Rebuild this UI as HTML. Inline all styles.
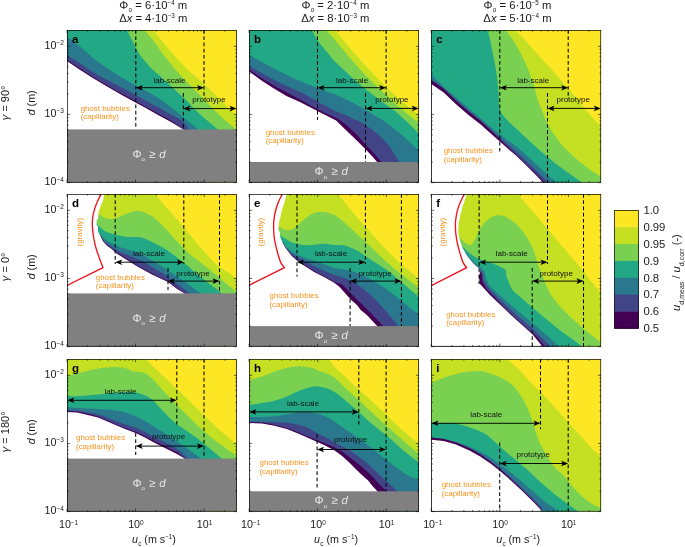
<!DOCTYPE html>
<html><head><meta charset="utf-8"><title>figure</title>
<style>
html,body{margin:0;padding:0;background:#fff;}
body{width:685px;height:547px;overflow:hidden;}
svg{display:block;will-change:transform;}
text{font-family:"Liberation Sans",sans-serif;fill:#1a1a1a;}
.lab{font-size:8.0px;text-anchor:middle;fill:#111;}
.gb{font-size:7.9px;fill:#F7931E;}
.grav{font-size:7.9px;fill:#F7931E;text-anchor:middle;}
.phi{font-size:11.4px;fill:#E8E8E8;text-anchor:middle;}
.pl{font-size:11.5px;font-weight:bold;fill:#000;}
.tick{font-size:10.7px;}
.ttl{font-size:11.25px;text-anchor:middle;}
.ax{font-size:10.7px;text-anchor:middle;}
.cb{font-size:11.3px;}
</style></head><body>
<svg width="685" height="547" viewBox="0 0 685 547">
<rect width="685" height="547" fill="#fff"/>
<g transform="translate(67.00,30.10)">
<clipPath id="cp_a"><rect x="0" y="0" width="169.90" height="152.50"/></clipPath>
<g clip-path="url(#cp_a)">
<rect x="0" y="0" width="169.90" height="152.50" fill="#FDE725"/>
<path d="M86.00,0.00 C87.92,2.33 93.50,9.25 97.50,14.00 C101.50,18.75 105.92,24.00 110.00,28.50 C114.08,33.00 118.17,37.42 122.00,41.00 C125.83,44.58 129.17,46.60 133.00,50.00 C136.83,53.40 141.50,58.07 145.00,61.40 C148.50,64.73 151.07,67.07 154.00,70.00 C156.93,72.93 159.95,76.42 162.60,79.00 C165.25,81.58 168.68,84.42 169.90,85.50 L169.90,152.50 L0.00,152.50 L0.00,0.00 Z" fill="#C5DF22"/>
<path d="M77.00,0.00 C78.33,1.50 81.58,4.67 85.00,9.00 C88.42,13.33 93.33,20.58 97.50,26.00 C101.67,31.42 106.58,37.50 110.00,41.50 C113.42,45.50 115.08,46.98 118.00,50.00 C120.92,53.02 124.50,56.53 127.50,59.60 C130.50,62.67 133.08,65.33 136.00,68.40 C138.92,71.47 142.00,75.00 145.00,78.00 C148.00,81.00 151.07,83.73 154.00,86.40 C156.93,89.07 159.95,91.65 162.60,94.00 C165.25,96.35 168.68,99.42 169.90,100.50 L169.90,152.50 L0.00,152.50 L0.00,0.00 Z" fill="#7AD151"/>
<path d="M60.00,0.00 C60.83,1.67 63.33,6.67 65.00,10.00 C66.67,13.33 68.33,17.08 70.00,20.00 C71.67,22.92 73.33,25.25 75.00,27.50 C76.67,29.75 78.33,31.58 80.00,33.50 C81.67,35.42 82.08,36.25 85.00,39.00 C87.92,41.75 93.33,46.22 97.50,50.00 C101.67,53.78 106.45,58.42 110.00,61.70 C113.55,64.98 115.88,66.82 118.80,69.70 C121.72,72.58 124.63,76.15 127.50,79.00 C130.37,81.85 133.08,84.25 136.00,86.80 C138.92,89.35 142.33,92.02 145.00,94.30 C147.67,96.58 150.83,99.47 152.00,100.50 L152.00,152.50 L0.00,152.50 L0.00,0.00 Z" fill="#22A884"/>
<path d="M0.00,6.50 C2.08,8.08 8.33,12.58 12.50,16.00 C16.67,19.42 20.92,23.67 25.00,27.00 C29.08,30.33 32.83,33.08 37.00,36.00 C41.17,38.92 44.75,41.25 50.00,44.50 C55.25,47.75 62.67,52.25 68.50,55.50 C74.33,58.75 80.25,61.25 85.00,64.00 C89.75,66.75 92.83,69.00 97.00,72.00 C101.17,75.00 106.37,79.08 110.00,82.00 C113.63,84.92 115.88,87.08 118.80,89.50 C121.72,91.92 125.30,94.67 127.50,96.50 C129.70,98.33 131.25,99.83 132.00,100.50 L132.00,152.50 L0.00,152.50 Z" fill="#2A788E"/>
<path d="M0.00,25.00 C2.08,26.33 8.33,30.25 12.50,33.00 C16.67,35.75 20.92,38.92 25.00,41.50 C29.08,44.08 32.83,46.25 37.00,48.50 C41.17,50.75 44.75,52.28 50.00,55.00 C55.25,57.72 61.83,61.22 68.50,64.80 C75.17,68.38 84.00,73.18 90.00,76.50 C96.00,79.82 100.33,82.32 104.50,84.70 C108.67,87.08 111.92,88.17 115.00,90.80 C118.08,93.43 121.67,98.88 123.00,100.50 L123.00,152.50 L0.00,152.50 Z" fill="#414487"/>
<path d="M0.00,29.70 C2.08,31.08 8.33,35.25 12.50,38.00 C16.67,40.75 20.83,43.58 25.00,46.20 C29.17,48.82 32.53,50.82 37.50,53.70 C42.47,56.58 49.63,60.62 54.80,63.50 C59.97,66.38 64.35,68.72 68.50,71.00 C72.65,73.28 75.78,75.03 79.70,77.20 C83.62,79.37 87.87,81.73 92.00,84.00 C96.13,86.27 100.17,88.22 104.50,90.80 C108.83,93.38 115.75,98.05 118.00,99.50 L118.00,152.50 L0.00,152.50 Z" fill="#440154"/>
<path d="M0.00,31.00 L12.50,39.30 L25.00,47.50 L37.50,55.00 L54.80,64.80 L68.50,72.30 L79.70,78.50 L92.00,85.30 L104.50,92.20 L116.50,99.30 L116.50,152.50 L0.00,152.50 Z" fill="#FFFFFF"/>
<rect x="0" y="99.30" width="169.90" height="53.20" fill="#808080"/>
</g>
<path d="M68.80,0.00 V98.60" stroke="#000" stroke-width="1.05" stroke-dasharray="3.7 2.5" fill="none"/>
<path d="M137.00,0.00 V66.50" stroke="#000" stroke-width="1.05" stroke-dasharray="3.7 2.5" fill="none"/>
<path d="M116.30,63.00 V99.30" stroke="#000" stroke-width="1.05" stroke-dasharray="3.7 2.5" fill="none"/>
<path d="M70.80,57.60 H135.00" stroke="#000" stroke-width="0.95" fill="none"/><path d="M68.80,57.60 l7.00,-2.80 l-1.6,2.80 l1.6,2.80 Z" fill="#000"/><path d="M137.00,57.60 l-7.00,-2.80 l1.6,2.80 l-1.6,2.80 Z" fill="#000"/>
<path d="M118.30,78.50 H167.60" stroke="#000" stroke-width="0.95" fill="none"/><path d="M116.30,78.50 l7.00,-2.80 l-1.6,2.80 l1.6,2.80 Z" fill="#000"/><path d="M169.60,78.50 l-7.00,-2.80 l1.6,2.80 l-1.6,2.80 Z" fill="#000"/>
<path d="M0.00,152.50 v-3 M0.00,0 v3 M68.60,152.50 v-3 M68.60,0 v3 M137.20,152.50 v-3 M137.20,0 v3 M20.65,152.50 v-1.6 M20.65,0 v1.6 M32.73,152.50 v-1.6 M32.73,0 v1.6 M41.30,152.50 v-1.6 M41.30,0 v1.6 M47.95,152.50 v-1.6 M47.95,0 v1.6 M53.38,152.50 v-1.6 M53.38,0 v1.6 M57.97,152.50 v-1.6 M57.97,0 v1.6 M61.95,152.50 v-1.6 M61.95,0 v1.6 M65.46,152.50 v-1.6 M65.46,0 v1.6 M89.25,152.50 v-1.6 M89.25,0 v1.6 M101.33,152.50 v-1.6 M101.33,0 v1.6 M109.90,152.50 v-1.6 M109.90,0 v1.6 M116.55,152.50 v-1.6 M116.55,0 v1.6 M121.98,152.50 v-1.6 M121.98,0 v1.6 M126.57,152.50 v-1.6 M126.57,0 v1.6 M130.55,152.50 v-1.6 M130.55,0 v1.6 M134.06,152.50 v-1.6 M134.06,0 v1.6 M157.85,152.50 v-1.6 M157.85,0 v1.6 M0,152.50 h3 M169.90,152.50 h-3 M0,84.35 h3 M169.90,84.35 h-3 M0,16.20 h3 M169.90,16.20 h-3 M0,131.98 h1.6 M169.90,131.98 h-1.6 M0,119.98 h1.6 M169.90,119.98 h-1.6 M0,111.47 h1.6 M169.90,111.47 h-1.6 M0,104.87 h1.6 M169.90,104.87 h-1.6 M0,99.47 h1.6 M169.90,99.47 h-1.6 M0,94.91 h1.6 M169.90,94.91 h-1.6 M0,90.95 h1.6 M169.90,90.95 h-1.6 M0,87.47 h1.6 M169.90,87.47 h-1.6 M0,63.83 h1.6 M169.90,63.83 h-1.6 M0,51.83 h1.6 M169.90,51.83 h-1.6 M0,43.32 h1.6 M169.90,43.32 h-1.6 M0,36.72 h1.6 M169.90,36.72 h-1.6 M0,31.32 h1.6 M169.90,31.32 h-1.6 M0,26.76 h1.6 M169.90,26.76 h-1.6 M0,22.80 h1.6 M169.90,22.80 h-1.6 M0,19.32 h1.6 M169.90,19.32 h-1.6" stroke="#000" stroke-width="0.6" fill="none"/>
<rect x="0.35" y="0.35" width="169.20" height="151.80" fill="none" stroke="#000" stroke-width="0.7"/>
<text x="5.00" y="12.80" class="pl">a</text>
<text x="102.50" y="53.00" class="lab">lab-scale</text>
<text x="142.00" y="72.30" class="lab">prototype</text>
<text x="82.00" y="127.60" class="phi">Φ<tspan dy="3.6" font-size="6">o</tspan><tspan dy="-3.6" dx="1.2"> ≥ </tspan><tspan font-style="italic" dx="0.6">d</tspan></text>
<text x="13.70" y="80.50" class="gb">ghost bubbles</text>
<text x="13.70" y="89.20" class="gb">(capillarity)</text>
</g>
<g transform="translate(249.10,30.10)">
<clipPath id="cp_b"><rect x="0" y="0" width="169.90" height="152.50"/></clipPath>
<g clip-path="url(#cp_b)">
<rect x="0" y="0" width="169.90" height="152.50" fill="#FDE725"/>
<path d="M86.10,0.00 C87.97,2.28 93.37,9.03 97.30,13.70 C101.23,18.37 105.55,23.35 109.70,28.00 C113.85,32.65 118.05,37.15 122.20,41.60 C126.35,46.05 130.47,50.67 134.60,54.70 C138.73,58.73 143.10,62.33 147.00,65.80 C150.90,69.27 154.18,72.22 158.00,75.50 C161.82,78.78 167.92,83.83 169.90,85.50 L169.90,152.50 L0.00,152.50 L0.00,0.00 Z" fill="#C5DF22"/>
<path d="M77.00,0.00 C78.32,1.45 81.52,4.77 84.90,8.70 C88.28,12.63 93.17,18.73 97.30,23.60 C101.43,28.47 105.55,33.35 109.70,37.90 C113.85,42.45 118.05,46.77 122.20,50.90 C126.35,55.03 130.63,58.93 134.60,62.70 C138.57,66.47 142.27,70.12 146.00,73.50 C149.73,76.88 153.02,79.75 157.00,83.00 C160.98,86.25 167.75,91.33 169.90,93.00 L169.90,152.50 L0.00,152.50 L0.00,0.00 Z" fill="#7AD151"/>
<path d="M62.70,0.00 C63.42,1.25 65.45,5.02 67.00,7.50 C68.55,9.98 70.12,12.42 72.00,14.90 C73.88,17.38 76.15,19.80 78.30,22.40 C80.45,25.00 81.73,27.20 84.90,30.50 C88.07,33.80 93.17,38.38 97.30,42.20 C101.43,46.02 105.55,49.87 109.70,53.40 C113.85,56.93 118.15,60.22 122.20,63.40 C126.25,66.58 129.87,69.40 134.00,72.50 C138.13,75.60 143.00,78.75 147.00,82.00 C151.00,85.25 154.18,88.42 158.00,92.00 C161.82,95.58 167.92,101.58 169.90,103.50 L169.90,152.50 L0.00,152.50 L0.00,0.00 Z" fill="#22A884"/>
<path d="M0.00,24.50 C2.07,25.70 8.27,29.37 12.40,31.70 C16.53,34.03 20.65,36.33 24.80,38.50 C28.95,40.67 33.15,42.73 37.30,44.70 C41.45,46.67 45.57,48.53 49.70,50.30 C53.83,52.07 59.00,54.05 62.10,55.30 C65.20,56.55 64.48,56.35 68.30,57.80 C72.12,59.25 79.72,61.80 85.00,64.00 C90.28,66.20 94.72,68.37 100.00,71.00 C105.28,73.63 112.03,77.13 116.70,79.80 C121.37,82.47 124.80,85.03 128.00,87.00 C131.20,88.97 132.23,89.02 135.90,91.60 C139.57,94.18 145.98,99.18 150.00,102.50 C154.02,105.82 156.68,108.50 160.00,111.50 C163.32,114.50 168.25,119.00 169.90,120.50 L169.90,152.50 L0.00,152.50 Z" fill="#2A788E"/>
<path d="M0.00,35.50 C2.07,36.73 8.27,40.53 12.40,42.90 C16.53,45.27 20.65,47.53 24.80,49.70 C28.95,51.87 33.15,53.93 37.30,55.90 C41.45,57.87 46.42,59.98 49.70,61.50 C52.98,63.02 53.90,63.33 57.00,65.00 C60.10,66.67 63.65,68.95 68.30,71.50 C72.95,74.05 80.07,78.00 84.90,80.30 C89.73,82.60 93.62,83.68 97.30,85.30 C100.98,86.92 103.88,88.45 107.00,90.00 C110.12,91.55 112.43,92.28 116.00,94.60 C119.57,96.92 124.68,100.68 128.40,103.90 C132.12,107.12 135.62,110.78 138.30,113.90 C140.98,117.02 142.38,119.42 144.50,122.60 C146.62,125.78 149.92,131.27 151.00,133.00 L151.00,152.50 L0.00,152.50 Z" fill="#414487"/>
<path d="M0.00,39.50 C2.07,40.88 8.27,45.17 12.40,47.80 C16.53,50.43 20.65,52.92 24.80,55.30 C28.95,57.68 32.95,59.77 37.30,62.10 C41.65,64.43 45.73,66.48 50.90,69.30 C56.07,72.12 63.75,76.55 68.30,79.00 C72.85,81.45 74.88,82.43 78.20,84.00 C81.52,85.57 85.08,86.63 88.20,88.40 C91.32,90.17 94.22,92.43 96.90,94.60 C99.58,96.77 102.03,99.22 104.30,101.40 C106.57,103.58 108.43,105.43 110.50,107.70 C112.57,109.97 114.22,112.32 116.70,115.00 C119.18,117.68 122.60,120.80 125.40,123.80 C128.20,126.80 132.15,131.47 133.50,133.00 L133.50,152.50 L0.00,152.50 Z" fill="#440154"/>
<path d="M0.00,41.30 L12.40,50.30 L24.80,58.40 L37.30,65.80 L50.90,72.00 L68.30,81.00 L78.20,86.00 L87.00,90.30 L94.40,97.70 L103.00,105.80 L110.50,113.20 L116.70,119.50 L124.20,127.50 L128.00,132.00 L128.00,152.50 L0.00,152.50 Z" fill="#FFFFFF"/>
<rect x="0" y="131.90" width="169.90" height="20.60" fill="#808080"/>
</g>
<path d="M68.40,0.00 V90.00" stroke="#000" stroke-width="1.05" stroke-dasharray="3.7 2.5" fill="none"/>
<path d="M137.00,0.00 V66.50" stroke="#000" stroke-width="1.05" stroke-dasharray="3.7 2.5" fill="none"/>
<path d="M116.40,63.00 V132.00" stroke="#000" stroke-width="1.05" stroke-dasharray="3.7 2.5" fill="none"/>
<path d="M70.40,57.60 H135.00" stroke="#000" stroke-width="0.95" fill="none"/><path d="M68.40,57.60 l7.00,-2.80 l-1.6,2.80 l1.6,2.80 Z" fill="#000"/><path d="M137.00,57.60 l-7.00,-2.80 l1.6,2.80 l-1.6,2.80 Z" fill="#000"/>
<path d="M118.40,78.30 H167.60" stroke="#000" stroke-width="0.95" fill="none"/><path d="M116.40,78.30 l7.00,-2.80 l-1.6,2.80 l1.6,2.80 Z" fill="#000"/><path d="M169.60,78.30 l-7.00,-2.80 l1.6,2.80 l-1.6,2.80 Z" fill="#000"/>
<path d="M0.00,152.50 v-3 M0.00,0 v3 M68.60,152.50 v-3 M68.60,0 v3 M137.20,152.50 v-3 M137.20,0 v3 M20.65,152.50 v-1.6 M20.65,0 v1.6 M32.73,152.50 v-1.6 M32.73,0 v1.6 M41.30,152.50 v-1.6 M41.30,0 v1.6 M47.95,152.50 v-1.6 M47.95,0 v1.6 M53.38,152.50 v-1.6 M53.38,0 v1.6 M57.97,152.50 v-1.6 M57.97,0 v1.6 M61.95,152.50 v-1.6 M61.95,0 v1.6 M65.46,152.50 v-1.6 M65.46,0 v1.6 M89.25,152.50 v-1.6 M89.25,0 v1.6 M101.33,152.50 v-1.6 M101.33,0 v1.6 M109.90,152.50 v-1.6 M109.90,0 v1.6 M116.55,152.50 v-1.6 M116.55,0 v1.6 M121.98,152.50 v-1.6 M121.98,0 v1.6 M126.57,152.50 v-1.6 M126.57,0 v1.6 M130.55,152.50 v-1.6 M130.55,0 v1.6 M134.06,152.50 v-1.6 M134.06,0 v1.6 M157.85,152.50 v-1.6 M157.85,0 v1.6 M0,152.50 h3 M169.90,152.50 h-3 M0,84.35 h3 M169.90,84.35 h-3 M0,16.20 h3 M169.90,16.20 h-3 M0,131.98 h1.6 M169.90,131.98 h-1.6 M0,119.98 h1.6 M169.90,119.98 h-1.6 M0,111.47 h1.6 M169.90,111.47 h-1.6 M0,104.87 h1.6 M169.90,104.87 h-1.6 M0,99.47 h1.6 M169.90,99.47 h-1.6 M0,94.91 h1.6 M169.90,94.91 h-1.6 M0,90.95 h1.6 M169.90,90.95 h-1.6 M0,87.47 h1.6 M169.90,87.47 h-1.6 M0,63.83 h1.6 M169.90,63.83 h-1.6 M0,51.83 h1.6 M169.90,51.83 h-1.6 M0,43.32 h1.6 M169.90,43.32 h-1.6 M0,36.72 h1.6 M169.90,36.72 h-1.6 M0,31.32 h1.6 M169.90,31.32 h-1.6 M0,26.76 h1.6 M169.90,26.76 h-1.6 M0,22.80 h1.6 M169.90,22.80 h-1.6 M0,19.32 h1.6 M169.90,19.32 h-1.6" stroke="#000" stroke-width="0.6" fill="none"/>
<rect x="0.35" y="0.35" width="169.20" height="151.80" fill="none" stroke="#000" stroke-width="0.7"/>
<text x="5.00" y="12.80" class="pl">b</text>
<text x="103.00" y="53.00" class="lab">lab-scale</text>
<text x="142.80" y="72.30" class="lab">prototype</text>
<text x="82.10" y="145.10" class="phi">Φ<tspan dy="3.6" font-size="6">o</tspan><tspan dy="-3.6" dx="1.2"> ≥ </tspan><tspan font-style="italic" dx="0.6">d</tspan></text>
<text x="16.60" y="104.50" class="gb">ghost bubbles</text>
<text x="16.60" y="113.30" class="gb">(capillarity)</text>
</g>
<g transform="translate(431.20,30.10)">
<clipPath id="cp_c"><rect x="0" y="0" width="169.90" height="152.50"/></clipPath>
<g clip-path="url(#cp_c)">
<rect x="0" y="0" width="169.90" height="152.50" fill="#FDE725"/>
<path d="M84.40,0.00 C85.75,1.43 89.08,4.88 92.50,8.60 C95.92,12.32 100.77,17.73 104.90,22.30 C109.03,26.87 113.48,31.75 117.30,36.00 C121.12,40.25 124.43,43.97 127.80,47.80 C131.17,51.63 134.13,55.05 137.50,59.00 C140.87,62.95 144.57,67.35 148.00,71.50 C151.43,75.65 154.45,79.73 158.10,83.90 C161.75,88.07 167.93,94.40 169.90,96.50 L169.90,152.50 L0.00,152.50 L0.00,0.00 Z" fill="#C5DF22"/>
<path d="M74.30,0.00 C75.25,1.23 78.00,4.52 80.00,7.40 C82.00,10.28 84.22,13.58 86.30,17.30 C88.38,21.02 90.63,25.77 92.50,29.70 C94.37,33.63 95.85,36.75 97.50,40.90 C99.15,45.05 100.95,50.10 102.40,54.60 C103.85,59.10 104.58,63.02 106.20,67.90 C107.82,72.78 110.28,79.37 112.10,83.90 C113.92,88.43 115.23,91.58 117.10,95.10 C118.97,98.62 121.02,101.68 123.30,105.00 C125.58,108.32 128.10,111.88 130.80,115.00 C133.50,118.12 136.40,120.82 139.50,123.70 C142.60,126.58 146.10,129.62 149.40,132.30 C152.70,134.98 155.88,137.42 159.30,139.80 C162.72,142.18 168.13,145.47 169.90,146.60 L169.90,152.50 L0.00,152.50 L0.00,0.00 Z" fill="#7AD151"/>
<path d="M56.40,0.00 C56.83,1.63 58.17,6.08 59.00,9.80 C59.83,13.52 60.58,18.15 61.40,22.30 C62.22,26.45 63.17,30.57 63.90,34.70 C64.63,38.83 65.28,43.17 65.80,47.10 C66.32,51.03 66.70,54.83 67.00,58.30 C67.30,61.77 67.42,64.97 67.60,67.90 C67.78,70.83 67.60,73.33 68.10,75.90 C68.60,78.47 69.15,80.82 70.60,83.30 C72.05,85.78 74.43,88.27 76.80,90.80 C79.17,93.33 81.40,95.30 84.80,98.50 C88.20,101.70 93.07,106.22 97.20,110.00 C101.33,113.78 105.45,117.58 109.60,121.20 C113.75,124.82 117.95,128.40 122.10,131.70 C126.25,135.00 130.37,138.00 134.50,141.00 C138.63,144.00 144.07,147.70 146.90,149.70 C149.73,151.70 150.73,152.45 151.50,153.00 L0.00,152.50 L0.00,0.00 Z" fill="#22A884"/>
<path d="M0.00,44.00 C2.03,46.10 8.10,52.73 12.20,56.60 C16.30,60.47 20.47,63.68 24.60,67.20 C28.73,70.72 32.85,74.18 37.00,77.70 C41.15,81.22 45.55,84.93 49.50,88.30 C53.45,91.67 56.95,94.78 60.70,97.90 C64.45,101.02 67.98,103.95 72.00,107.00 C76.02,110.05 80.60,112.90 84.80,116.20 C89.00,119.50 93.07,123.07 97.20,126.80 C101.33,130.53 105.45,134.78 109.60,138.60 C113.75,142.42 119.37,147.30 122.10,149.70 C124.83,152.10 125.35,152.45 126.00,153.00 L0.00,152.50 Z" fill="#2A788E"/>
<path d="M0.00,49.50 C2.03,50.92 8.10,54.62 12.20,58.00 C16.30,61.38 20.47,66.08 24.60,69.80 C28.73,73.52 32.85,76.88 37.00,80.30 C41.15,83.72 45.55,86.97 49.50,90.30 C53.45,93.63 56.95,96.93 60.70,100.30 C64.45,103.67 67.98,107.02 72.00,110.50 C76.02,113.98 80.60,117.45 84.80,121.20 C89.00,124.95 93.07,129.07 97.20,133.00 C101.33,136.93 106.05,141.47 109.60,144.80 C113.15,148.13 117.02,151.63 118.50,153.00 L0.00,152.50 Z" fill="#414487"/>
<path d="M0.00,50.50 C2.03,51.87 8.10,55.37 12.20,58.70 C16.30,62.03 20.47,66.77 24.60,70.50 C28.73,74.23 32.85,77.68 37.00,81.10 C41.15,84.52 45.55,87.60 49.50,91.00 C53.45,94.40 56.95,97.92 60.70,101.50 C64.45,105.08 67.98,108.67 72.00,112.50 C76.02,116.33 81.02,120.92 84.80,124.50 C88.58,128.08 91.38,130.83 94.70,134.00 C98.02,137.17 101.48,140.33 104.70,143.50 C107.92,146.67 112.45,151.42 114.00,153.00 L0.00,152.50 Z" fill="#440154"/>
<path d="M0.00,54.00 L12.20,62.20 L24.60,74.00 L37.00,84.60 L49.50,94.50 L60.70,104.50 L72.00,114.50 L84.80,125.50 L94.70,134.80 L104.70,144.80 L112.30,153.00 L0.00,152.50 Z" fill="#FFFFFF"/>
</g>
<path d="M68.60,0.00 V124.00" stroke="#000" stroke-width="1.05" stroke-dasharray="3.7 2.5" fill="none"/>
<path d="M137.00,0.00 V66.50" stroke="#000" stroke-width="1.05" stroke-dasharray="3.7 2.5" fill="none"/>
<path d="M116.30,63.00 V152.50" stroke="#000" stroke-width="1.05" stroke-dasharray="3.7 2.5" fill="none"/>
<path d="M70.60,57.60 H135.00" stroke="#000" stroke-width="0.95" fill="none"/><path d="M68.60,57.60 l7.00,-2.80 l-1.6,2.80 l1.6,2.80 Z" fill="#000"/><path d="M137.00,57.60 l-7.00,-2.80 l1.6,2.80 l-1.6,2.80 Z" fill="#000"/>
<path d="M118.30,78.30 H167.60" stroke="#000" stroke-width="0.95" fill="none"/><path d="M116.30,78.30 l7.00,-2.80 l-1.6,2.80 l1.6,2.80 Z" fill="#000"/><path d="M169.60,78.30 l-7.00,-2.80 l1.6,2.80 l-1.6,2.80 Z" fill="#000"/>
<path d="M0.00,152.50 v-3 M0.00,0 v3 M68.60,152.50 v-3 M68.60,0 v3 M137.20,152.50 v-3 M137.20,0 v3 M20.65,152.50 v-1.6 M20.65,0 v1.6 M32.73,152.50 v-1.6 M32.73,0 v1.6 M41.30,152.50 v-1.6 M41.30,0 v1.6 M47.95,152.50 v-1.6 M47.95,0 v1.6 M53.38,152.50 v-1.6 M53.38,0 v1.6 M57.97,152.50 v-1.6 M57.97,0 v1.6 M61.95,152.50 v-1.6 M61.95,0 v1.6 M65.46,152.50 v-1.6 M65.46,0 v1.6 M89.25,152.50 v-1.6 M89.25,0 v1.6 M101.33,152.50 v-1.6 M101.33,0 v1.6 M109.90,152.50 v-1.6 M109.90,0 v1.6 M116.55,152.50 v-1.6 M116.55,0 v1.6 M121.98,152.50 v-1.6 M121.98,0 v1.6 M126.57,152.50 v-1.6 M126.57,0 v1.6 M130.55,152.50 v-1.6 M130.55,0 v1.6 M134.06,152.50 v-1.6 M134.06,0 v1.6 M157.85,152.50 v-1.6 M157.85,0 v1.6 M0,152.50 h3 M169.90,152.50 h-3 M0,84.35 h3 M169.90,84.35 h-3 M0,16.20 h3 M169.90,16.20 h-3 M0,131.98 h1.6 M169.90,131.98 h-1.6 M0,119.98 h1.6 M169.90,119.98 h-1.6 M0,111.47 h1.6 M169.90,111.47 h-1.6 M0,104.87 h1.6 M169.90,104.87 h-1.6 M0,99.47 h1.6 M169.90,99.47 h-1.6 M0,94.91 h1.6 M169.90,94.91 h-1.6 M0,90.95 h1.6 M169.90,90.95 h-1.6 M0,87.47 h1.6 M169.90,87.47 h-1.6 M0,63.83 h1.6 M169.90,63.83 h-1.6 M0,51.83 h1.6 M169.90,51.83 h-1.6 M0,43.32 h1.6 M169.90,43.32 h-1.6 M0,36.72 h1.6 M169.90,36.72 h-1.6 M0,31.32 h1.6 M169.90,31.32 h-1.6 M0,26.76 h1.6 M169.90,26.76 h-1.6 M0,22.80 h1.6 M169.90,22.80 h-1.6 M0,19.32 h1.6 M169.90,19.32 h-1.6" stroke="#000" stroke-width="0.6" fill="none"/>
<rect x="0.35" y="0.35" width="169.20" height="151.80" fill="none" stroke="#000" stroke-width="0.7"/>
<text x="5.00" y="12.80" class="pl">c</text>
<text x="102.00" y="53.00" class="lab">lab-scale</text>
<text x="142.00" y="72.30" class="lab">prototype</text>
<text x="12.50" y="123.20" class="gb">ghost bubbles</text>
<text x="12.50" y="132.00" class="gb">(capillarity)</text>
</g>
<g transform="translate(67.00,194.10)">
<clipPath id="cp_d"><rect x="0" y="0" width="169.90" height="152.50"/></clipPath>
<g clip-path="url(#cp_d)">
<rect x="0" y="0" width="169.90" height="152.50" fill="#FDE725"/>
<path d="M88.70,0.00 C90.15,1.87 93.88,7.07 97.40,11.20 C100.92,15.33 105.65,20.03 109.80,24.80 C113.95,29.57 118.15,34.82 122.30,39.80 C126.45,44.78 130.98,50.37 134.70,54.70 C138.42,59.03 141.60,62.75 144.60,65.80 C147.60,68.85 149.80,70.80 152.70,73.00 C155.60,75.20 159.13,77.00 162.00,79.00 C164.87,81.00 168.58,84.00 169.90,85.00 L169.90,152.50 L0.00,152.50 L0.00,0.00 Z" fill="#C5DF22"/>
<path d="M29.00,17.40 C30.17,18.33 33.80,21.77 36.00,23.00 C38.20,24.23 40.13,24.60 42.20,24.80 C44.27,25.00 46.32,24.72 48.40,24.20 C50.48,23.68 52.42,22.63 54.70,21.70 C56.98,20.77 59.83,19.42 62.10,18.60 C64.37,17.78 66.23,17.00 68.30,16.80 C70.37,16.60 71.72,16.53 74.50,17.40 C77.28,18.27 82.00,20.13 85.00,22.00 C88.00,23.87 90.00,26.27 92.50,28.60 C95.00,30.93 97.12,32.90 100.00,36.00 C102.88,39.10 106.08,43.27 109.80,47.20 C113.52,51.13 118.43,56.13 122.30,59.60 C126.17,63.07 128.88,64.77 133.00,68.00 C137.12,71.23 142.58,75.38 147.00,79.00 C151.42,82.62 155.68,86.53 159.50,89.70 C163.32,92.87 168.17,96.62 169.90,98.00 L169.90,152.50 L0.00,152.50 L0.00,17.40 Z" fill="#7AD151"/>
<path d="M27.00,26.70 C27.88,27.63 30.58,30.65 32.30,32.30 C34.02,33.95 35.43,35.47 37.30,36.60 C39.17,37.73 41.43,38.37 43.50,39.10 C45.57,39.83 47.63,40.48 49.70,41.00 C51.77,41.52 53.83,41.88 55.90,42.20 C57.97,42.52 60.03,42.78 62.10,42.90 C64.17,43.02 66.23,42.80 68.30,42.90 C70.37,43.00 71.72,42.65 74.50,43.50 C77.28,44.35 82.00,46.65 85.00,48.00 C88.00,49.35 90.00,50.28 92.50,51.60 C95.00,52.92 97.52,54.25 100.00,55.90 C102.48,57.55 104.73,59.48 107.40,61.50 C110.07,63.52 112.48,65.15 116.00,68.00 C119.52,70.85 124.33,75.18 128.50,78.60 C132.67,82.02 136.42,84.85 141.00,88.50 C145.58,92.15 153.50,98.50 156.00,100.50 L156.00,152.50 L0.00,152.50 L0.00,26.70 Z" fill="#22A884"/>
<path d="M29.00,37.30 C30.17,38.33 33.80,41.75 36.00,43.50 C38.20,45.25 39.92,46.45 42.20,47.80 C44.48,49.15 47.42,50.57 49.70,51.60 C51.98,52.63 53.83,53.28 55.90,54.00 C57.97,54.72 60.03,55.27 62.10,55.90 C64.17,56.53 66.23,57.12 68.30,57.80 C70.37,58.48 71.72,58.55 74.50,60.00 C77.28,61.45 81.18,64.17 85.00,66.50 C88.82,68.83 93.27,71.33 97.40,74.00 C101.53,76.67 105.65,79.67 109.80,82.50 C113.95,85.33 118.10,88.00 122.30,91.00 C126.50,94.00 132.88,98.92 135.00,100.50 L135.00,152.50 L0.00,152.50 L0.00,37.30 Z" fill="#2A788E"/>
<path d="M32.00,44.10 C33.70,45.23 39.25,48.93 42.20,50.90 C45.15,52.87 47.42,54.55 49.70,55.90 C51.98,57.25 53.83,58.07 55.90,59.00 C57.97,59.93 59.82,60.57 62.10,61.50 C64.38,62.43 67.12,63.52 69.60,64.60 C72.08,65.68 74.43,66.60 77.00,68.00 C79.57,69.40 81.60,70.92 85.00,73.00 C88.40,75.08 93.27,77.75 97.40,80.50 C101.53,83.25 105.37,86.17 109.80,89.50 C114.23,92.83 121.63,98.67 124.00,100.50 L124.00,152.50 L0.00,152.50 L0.00,44.10 Z" fill="#414487"/>
<path d="M30.00,40.00 L33.50,41.00 L36.00,46.00 L39.80,50.30 L44.70,53.80 L49.70,58.30 L59.60,64.50 L69.60,70.80 L79.50,76.30 L85.00,79.10 L92.50,82.80 L101.00,86.80 L109.80,93.50 L119.00,100.50 L119.00,152.50 L0.00,152.50 L0.00,40.00 Z" fill="#440154"/>
<path d="M37.30,0.00 L36.00,6.20 L33.50,12.40 L31.70,17.40 L31.00,24.80 L29.60,26.00 L29.60,31.00 L31.00,32.30 L31.00,37.30 L33.50,42.20 L36.00,47.20 L39.80,51.50 L44.70,55.00 L49.70,59.50 L59.60,65.70 L69.60,72.00 L79.50,77.50 L85.00,80.30 L92.50,84.00 L101.00,88.00 L109.80,94.70 L117.50,99.30 L117.50,152.50 L0.00,152.50 L0.00,0.00 Z" fill="#FFFFFF"/>
<rect x="0" y="99.30" width="169.90" height="53.20" fill="#808080"/>
</g>
<path d="M34.20,0.00 C33.57,1.25 31.50,5.00 30.40,7.50 C29.30,10.00 28.37,12.52 27.60,15.00 C26.83,17.48 26.18,19.93 25.80,22.40 C25.42,24.87 25.30,27.32 25.30,29.80 C25.30,32.28 25.50,34.60 25.80,37.30 C26.10,40.00 26.53,43.10 27.10,46.00 C27.67,48.90 28.43,52.03 29.20,54.70 C29.97,57.37 30.93,59.78 31.70,62.00 C32.47,64.22 33.08,66.07 33.80,68.00 C34.52,69.93 35.63,72.67 36.00,73.60 L0.00,91.30" stroke="#F0141E" stroke-width="1.35" fill="none" clip-path="url(#cp_d)"/>
<path d="M48.20,0.00 V70.00" stroke="#000" stroke-width="1.05" stroke-dasharray="3.7 2.5" fill="none"/>
<path d="M116.80,0.00 V70.00" stroke="#000" stroke-width="1.05" stroke-dasharray="3.7 2.5" fill="none"/>
<path d="M101.00,74.00 V96.00" stroke="#000" stroke-width="1.05" stroke-dasharray="3.7 2.5" fill="none"/>
<path d="M152.50,0.00 V99.30" stroke="#000" stroke-width="1.05" stroke-dasharray="3.7 2.5" fill="none"/>
<path d="M50.20,68.10 H114.80" stroke="#000" stroke-width="0.95" fill="none"/><path d="M48.20,68.10 l7.00,-2.80 l-1.6,2.80 l1.6,2.80 Z" fill="#000"/><path d="M116.80,68.10 l-7.00,-2.80 l1.6,2.80 l-1.6,2.80 Z" fill="#000"/>
<path d="M103.00,87.00 H150.50" stroke="#000" stroke-width="0.95" fill="none"/><path d="M101.00,87.00 l7.00,-2.80 l-1.6,2.80 l1.6,2.80 Z" fill="#000"/><path d="M152.50,87.00 l-7.00,-2.80 l1.6,2.80 l-1.6,2.80 Z" fill="#000"/>
<path d="M0.00,152.50 v-3 M0.00,0 v3 M68.60,152.50 v-3 M68.60,0 v3 M137.20,152.50 v-3 M137.20,0 v3 M20.65,152.50 v-1.6 M20.65,0 v1.6 M32.73,152.50 v-1.6 M32.73,0 v1.6 M41.30,152.50 v-1.6 M41.30,0 v1.6 M47.95,152.50 v-1.6 M47.95,0 v1.6 M53.38,152.50 v-1.6 M53.38,0 v1.6 M57.97,152.50 v-1.6 M57.97,0 v1.6 M61.95,152.50 v-1.6 M61.95,0 v1.6 M65.46,152.50 v-1.6 M65.46,0 v1.6 M89.25,152.50 v-1.6 M89.25,0 v1.6 M101.33,152.50 v-1.6 M101.33,0 v1.6 M109.90,152.50 v-1.6 M109.90,0 v1.6 M116.55,152.50 v-1.6 M116.55,0 v1.6 M121.98,152.50 v-1.6 M121.98,0 v1.6 M126.57,152.50 v-1.6 M126.57,0 v1.6 M130.55,152.50 v-1.6 M130.55,0 v1.6 M134.06,152.50 v-1.6 M134.06,0 v1.6 M157.85,152.50 v-1.6 M157.85,0 v1.6 M0,152.50 h3 M169.90,152.50 h-3 M0,84.35 h3 M169.90,84.35 h-3 M0,16.20 h3 M169.90,16.20 h-3 M0,131.98 h1.6 M169.90,131.98 h-1.6 M0,119.98 h1.6 M169.90,119.98 h-1.6 M0,111.47 h1.6 M169.90,111.47 h-1.6 M0,104.87 h1.6 M169.90,104.87 h-1.6 M0,99.47 h1.6 M169.90,99.47 h-1.6 M0,94.91 h1.6 M169.90,94.91 h-1.6 M0,90.95 h1.6 M169.90,90.95 h-1.6 M0,87.47 h1.6 M169.90,87.47 h-1.6 M0,63.83 h1.6 M169.90,63.83 h-1.6 M0,51.83 h1.6 M169.90,51.83 h-1.6 M0,43.32 h1.6 M169.90,43.32 h-1.6 M0,36.72 h1.6 M169.90,36.72 h-1.6 M0,31.32 h1.6 M169.90,31.32 h-1.6 M0,26.76 h1.6 M169.90,26.76 h-1.6 M0,22.80 h1.6 M169.90,22.80 h-1.6 M0,19.32 h1.6 M169.90,19.32 h-1.6" stroke="#000" stroke-width="0.6" fill="none"/>
<rect x="0.35" y="0.35" width="169.20" height="151.80" fill="none" stroke="#000" stroke-width="0.7"/>
<text x="5.00" y="12.80" class="pl">d</text>
<text x="82.00" y="62.00" class="lab">lab-scale</text>
<text x="126.00" y="81.50" class="lab">prototype</text>
<text x="82.00" y="127.60" class="phi">Φ<tspan dy="3.6" font-size="6">o</tspan><tspan dy="-3.6" dx="1.2"> ≥ </tspan><tspan font-style="italic" dx="0.6">d</tspan></text>
<text transform="translate(14.70,38.00) rotate(-90)" class="grav">(gravity)</text>
<text x="28.80" y="85.50" class="gb">ghost bubbles</text>
<text x="28.80" y="94.20" class="gb">(capillarity)</text>
</g>
<g transform="translate(249.10,194.10)">
<clipPath id="cp_e"><rect x="0" y="0" width="169.90" height="152.50"/></clipPath>
<g clip-path="url(#cp_e)">
<rect x="0" y="0" width="169.90" height="152.50" fill="#FDE725"/>
<path d="M88.60,0.00 C90.17,1.87 94.38,6.87 98.00,11.20 C101.62,15.53 106.17,21.23 110.30,26.00 C114.43,30.77 118.65,35.23 122.80,39.80 C126.95,44.37 131.07,49.07 135.20,53.40 C139.33,57.73 143.47,61.92 147.60,65.80 C151.73,69.68 156.28,73.50 160.00,76.70 C163.72,79.90 168.25,83.62 169.90,85.00 L169.90,152.50 L0.00,152.50 L0.00,0.00 Z" fill="#C5DF22"/>
<path d="M27.00,31.00 C28.17,31.63 32.00,33.97 34.00,34.80 C36.00,35.63 37.33,36.00 39.00,36.00 C40.67,36.00 42.13,35.83 44.00,34.80 C45.87,33.77 48.13,31.57 50.20,29.80 C52.27,28.03 54.33,25.85 56.40,24.20 C58.47,22.55 60.53,20.93 62.60,19.90 C64.67,18.87 66.73,18.32 68.80,18.00 C70.87,17.68 72.93,17.78 75.00,18.00 C77.07,18.22 79.45,18.80 81.20,19.30 C82.95,19.80 83.53,19.77 85.50,21.00 C87.47,22.23 90.32,24.50 93.00,26.70 C95.68,28.90 98.72,31.62 101.60,34.20 C104.48,36.78 107.18,39.32 110.30,42.20 C113.42,45.08 116.98,48.38 120.30,51.50 C123.62,54.62 127.33,58.15 130.20,60.90 C133.07,63.65 134.60,65.37 137.50,68.00 C140.40,70.63 144.05,73.80 147.60,76.70 C151.15,79.60 155.08,82.52 158.80,85.40 C162.52,88.28 168.05,92.57 169.90,94.00 L169.90,152.50 L0.00,152.50 L0.00,31.00 Z" fill="#7AD151"/>
<path d="M27.00,39.00 C28.38,39.83 32.88,42.53 35.30,44.00 C37.72,45.47 39.43,46.85 41.50,47.80 C43.57,48.75 45.63,49.17 47.70,49.70 C49.77,50.23 51.85,50.78 53.90,51.00 C55.95,51.22 57.72,51.12 60.00,51.00 C62.28,50.88 65.10,50.52 67.60,50.30 C70.10,50.08 72.73,49.70 75.00,49.70 C77.27,49.70 79.45,50.12 81.20,50.30 C82.95,50.48 83.53,50.68 85.50,50.80 C87.47,50.92 90.52,50.67 93.00,51.00 C95.48,51.33 97.92,51.88 100.40,52.80 C102.88,53.72 105.42,55.05 107.90,56.50 C110.38,57.95 112.40,59.58 115.30,61.50 C118.20,63.42 121.98,65.88 125.30,68.00 C128.62,70.12 131.92,71.92 135.20,74.20 C138.48,76.48 141.70,79.00 145.00,81.70 C148.30,84.40 152.08,87.92 155.00,90.40 C157.92,92.88 160.02,94.58 162.50,96.60 C164.98,98.62 168.67,101.52 169.90,102.50 L169.90,152.50 L0.00,152.50 L0.00,39.00 Z" fill="#22A884"/>
<path d="M30.00,49.70 C31.50,50.53 36.67,53.25 39.00,54.70 C41.33,56.15 42.13,57.27 44.00,58.40 C45.87,59.53 48.13,60.57 50.20,61.50 C52.27,62.43 54.33,63.28 56.40,64.00 C58.47,64.72 60.33,65.05 62.60,65.80 C64.87,66.55 66.18,67.13 70.00,68.50 C73.82,69.87 81.27,72.83 85.50,74.00 C89.73,75.17 92.08,74.83 95.40,75.50 C98.72,76.17 102.08,76.92 105.40,78.00 C108.72,79.08 111.98,80.45 115.30,82.00 C118.62,83.55 121.98,85.38 125.30,87.30 C128.62,89.22 131.92,91.23 135.20,93.50 C138.48,95.77 141.70,98.32 145.00,100.90 C148.30,103.48 152.08,106.62 155.00,109.00 C157.92,111.38 160.02,113.37 162.50,115.20 C164.98,117.03 168.67,119.20 169.90,120.00 L169.90,152.50 L0.00,152.50 L0.00,49.70 Z" fill="#2A788E"/>
<path d="M33.00,54.70 C34.62,55.52 40.25,58.27 42.70,59.60 C45.15,60.93 46.03,61.77 47.70,62.70 C49.37,63.63 51.05,64.37 52.70,65.20 C54.35,66.03 54.72,66.15 57.60,67.70 C60.48,69.25 65.35,72.28 70.00,74.50 C74.65,76.72 81.27,79.42 85.50,81.00 C89.73,82.58 92.08,82.67 95.40,84.00 C98.72,85.33 102.08,87.00 105.40,89.00 C108.72,91.00 111.98,93.40 115.30,96.00 C118.62,98.60 121.98,101.40 125.30,104.60 C128.62,107.80 132.32,111.97 135.20,115.20 C138.08,118.43 140.13,121.03 142.60,124.00 C145.07,126.97 148.77,131.50 150.00,133.00 L150.00,152.50 L0.00,152.50 L0.00,54.70 Z" fill="#414487"/>
<path d="M33.00,52.00 L33.40,47.20 L36.50,52.80 L42.70,60.80 L49.00,66.30 L56.40,71.30 L65.00,76.80 L75.00,81.80 L85.50,87.80 L93.00,90.40 L100.40,97.80 L107.90,105.30 L115.30,112.70 L122.80,120.20 L129.00,126.40 L135.00,133.00 L135.00,152.50 L0.00,152.50 L0.00,56.00 Z" fill="#440154"/>
<path d="M37.70,0.00 L35.90,6.20 L34.00,12.40 L32.20,18.60 L30.90,24.80 L29.70,29.20 L29.30,36.00 L30.90,38.50 L30.90,42.20 L33.40,48.40 L36.50,54.00 L42.70,62.00 L49.00,67.50 L56.40,72.50 L65.00,78.00 L75.00,83.00 L85.50,89.00 L90.50,92.80 L95.40,98.40 L101.60,105.30 L107.90,110.90 L111.60,115.80 L117.80,120.80 L124.00,127.60 L128.00,132.00 L128.00,152.50 L0.00,152.50 L0.00,0.00 Z" fill="#FFFFFF"/>
<rect x="0" y="132.00" width="169.90" height="20.50" fill="#808080"/>
</g>
<path d="M33.00,0.00 C32.33,1.45 30.12,5.80 29.00,8.70 C27.88,11.60 27.00,14.52 26.30,17.40 C25.60,20.28 25.10,23.32 24.80,26.00 C24.50,28.68 24.47,30.80 24.50,33.50 C24.53,36.20 24.65,39.28 25.00,42.20 C25.35,45.12 25.97,48.10 26.60,51.00 C27.23,53.90 27.98,56.77 28.80,59.60 C29.62,62.43 30.42,65.67 31.50,68.00 C32.58,70.33 34.67,72.67 35.30,73.60 L0.00,91.20" stroke="#F0141E" stroke-width="1.35" fill="none" clip-path="url(#cp_e)"/>
<path d="M47.90,0.00 V82.50" stroke="#000" stroke-width="1.05" stroke-dasharray="3.7 2.5" fill="none"/>
<path d="M116.30,0.00 V70.00" stroke="#000" stroke-width="1.05" stroke-dasharray="3.7 2.5" fill="none"/>
<path d="M101.00,74.00 V132.00" stroke="#000" stroke-width="1.05" stroke-dasharray="3.7 2.5" fill="none"/>
<path d="M152.30,0.00 V132.00" stroke="#000" stroke-width="1.05" stroke-dasharray="3.7 2.5" fill="none"/>
<path d="M49.90,68.10 H114.30" stroke="#000" stroke-width="0.95" fill="none"/><path d="M47.90,68.10 l7.00,-2.80 l-1.6,2.80 l1.6,2.80 Z" fill="#000"/><path d="M116.30,68.10 l-7.00,-2.80 l1.6,2.80 l-1.6,2.80 Z" fill="#000"/>
<path d="M103.00,87.00 H150.30" stroke="#000" stroke-width="0.95" fill="none"/><path d="M101.00,87.00 l7.00,-2.80 l-1.6,2.80 l1.6,2.80 Z" fill="#000"/><path d="M152.30,87.00 l-7.00,-2.80 l1.6,2.80 l-1.6,2.80 Z" fill="#000"/>
<path d="M0.00,152.50 v-3 M0.00,0 v3 M68.60,152.50 v-3 M68.60,0 v3 M137.20,152.50 v-3 M137.20,0 v3 M20.65,152.50 v-1.6 M20.65,0 v1.6 M32.73,152.50 v-1.6 M32.73,0 v1.6 M41.30,152.50 v-1.6 M41.30,0 v1.6 M47.95,152.50 v-1.6 M47.95,0 v1.6 M53.38,152.50 v-1.6 M53.38,0 v1.6 M57.97,152.50 v-1.6 M57.97,0 v1.6 M61.95,152.50 v-1.6 M61.95,0 v1.6 M65.46,152.50 v-1.6 M65.46,0 v1.6 M89.25,152.50 v-1.6 M89.25,0 v1.6 M101.33,152.50 v-1.6 M101.33,0 v1.6 M109.90,152.50 v-1.6 M109.90,0 v1.6 M116.55,152.50 v-1.6 M116.55,0 v1.6 M121.98,152.50 v-1.6 M121.98,0 v1.6 M126.57,152.50 v-1.6 M126.57,0 v1.6 M130.55,152.50 v-1.6 M130.55,0 v1.6 M134.06,152.50 v-1.6 M134.06,0 v1.6 M157.85,152.50 v-1.6 M157.85,0 v1.6 M0,152.50 h3 M169.90,152.50 h-3 M0,84.35 h3 M169.90,84.35 h-3 M0,16.20 h3 M169.90,16.20 h-3 M0,131.98 h1.6 M169.90,131.98 h-1.6 M0,119.98 h1.6 M169.90,119.98 h-1.6 M0,111.47 h1.6 M169.90,111.47 h-1.6 M0,104.87 h1.6 M169.90,104.87 h-1.6 M0,99.47 h1.6 M169.90,99.47 h-1.6 M0,94.91 h1.6 M169.90,94.91 h-1.6 M0,90.95 h1.6 M169.90,90.95 h-1.6 M0,87.47 h1.6 M169.90,87.47 h-1.6 M0,63.83 h1.6 M169.90,63.83 h-1.6 M0,51.83 h1.6 M169.90,51.83 h-1.6 M0,43.32 h1.6 M169.90,43.32 h-1.6 M0,36.72 h1.6 M169.90,36.72 h-1.6 M0,31.32 h1.6 M169.90,31.32 h-1.6 M0,26.76 h1.6 M169.90,26.76 h-1.6 M0,22.80 h1.6 M169.90,22.80 h-1.6 M0,19.32 h1.6 M169.90,19.32 h-1.6" stroke="#000" stroke-width="0.6" fill="none"/>
<rect x="0.35" y="0.35" width="169.20" height="151.80" fill="none" stroke="#000" stroke-width="0.7"/>
<text x="5.00" y="12.80" class="pl">e</text>
<text x="82.00" y="62.00" class="lab">lab-scale</text>
<text x="126.00" y="81.50" class="lab">prototype</text>
<text x="82.10" y="145.10" class="phi">Φ<tspan dy="3.6" font-size="6">o</tspan><tspan dy="-3.6" dx="1.2"> ≥ </tspan><tspan font-style="italic" dx="0.6">d</tspan></text>
<text transform="translate(13.90,38.00) rotate(-90)" class="grav">(gravity)</text>
<text x="20.40" y="103.70" class="gb">ghost bubbles</text>
<text x="20.40" y="113.00" class="gb">(capillarity)</text>
</g>
<g transform="translate(431.20,194.10)">
<clipPath id="cp_f"><rect x="0" y="0" width="169.90" height="152.50"/></clipPath>
<g clip-path="url(#cp_f)">
<rect x="0" y="0" width="169.90" height="152.50" fill="#FDE725"/>
<path d="M86.90,0.00 C88.25,1.67 92.00,6.50 95.00,10.00 C98.00,13.50 101.60,17.17 104.90,21.00 C108.20,24.83 111.48,29.05 114.80,33.00 C118.12,36.95 121.48,40.78 124.80,44.70 C128.12,48.62 131.40,52.62 134.70,56.50 C138.00,60.38 141.72,64.63 144.60,68.00 C147.48,71.37 149.52,73.60 152.00,76.70 C154.48,79.80 156.52,82.97 159.50,86.60 C162.48,90.23 168.17,96.52 169.90,98.50 L169.90,152.50 L0.00,152.50 L0.00,0.00 Z" fill="#C5DF22"/>
<path d="M25.00,40.00 C26.22,41.20 30.30,45.45 32.30,47.20 C34.30,48.95 35.63,49.95 37.00,50.50 C38.37,51.05 39.42,51.25 40.50,50.50 C41.58,49.75 42.38,48.20 43.50,46.00 C44.62,43.80 45.75,40.00 47.20,37.30 C48.65,34.60 50.33,31.98 52.20,29.80 C54.07,27.62 56.33,25.60 58.40,24.20 C60.47,22.80 62.53,21.87 64.60,21.40 C66.67,20.93 68.73,20.93 70.80,21.40 C72.87,21.87 74.63,22.77 77.00,24.20 C79.37,25.63 82.83,28.13 85.00,30.00 C87.17,31.87 88.33,33.37 90.00,35.40 C91.67,37.43 93.33,39.60 95.00,42.20 C96.67,44.80 98.57,48.10 100.00,51.00 C101.43,53.90 102.60,56.77 103.60,59.60 C104.60,62.43 104.97,64.93 106.00,68.00 C107.03,71.07 108.55,74.75 109.80,78.00 C111.05,81.25 112.27,84.52 113.50,87.50 C114.73,90.48 115.55,92.85 117.20,95.90 C118.85,98.95 121.12,102.70 123.40,105.80 C125.68,108.90 128.42,111.80 130.90,114.50 C133.38,117.20 136.15,119.92 138.30,122.00 C140.45,124.08 141.92,125.28 143.80,127.00 C145.68,128.72 147.80,130.75 149.60,132.30 C151.40,133.85 151.22,133.60 154.60,136.30 C157.98,139.00 167.35,146.47 169.90,148.50 L169.90,152.50 L0.00,152.50 L0.00,40.00 Z" fill="#7AD151"/>
<path d="M25.00,43.50 C26.00,44.92 28.95,49.55 31.00,52.00 C33.05,54.45 35.22,56.43 37.30,58.20 C39.38,59.97 41.43,61.35 43.50,62.60 C45.57,63.85 47.45,64.80 49.70,65.70 C51.95,66.60 54.52,67.18 57.00,68.00 C59.48,68.82 62.30,69.65 64.60,70.60 C66.90,71.55 69.15,72.77 70.80,73.70 C72.45,74.63 73.77,74.85 74.50,76.20 C75.23,77.55 74.68,79.83 75.20,81.80 C75.72,83.77 76.60,85.65 77.60,88.00 C78.60,90.35 78.95,93.13 81.20,95.90 C83.45,98.67 87.80,101.70 91.10,104.60 C94.40,107.50 97.48,110.30 101.00,113.30 C104.52,116.30 108.47,119.50 112.20,122.60 C115.93,125.70 119.88,129.10 123.40,131.90 C126.92,134.70 129.90,136.92 133.30,139.40 C136.70,141.88 140.77,144.53 143.80,146.80 C146.83,149.07 150.22,151.97 151.50,153.00 L0.00,152.50 L0.00,43.50 Z" fill="#22A884"/>
<path d="M28.00,51.00 C29.33,52.62 33.63,57.95 36.00,60.70 C38.37,63.45 39.92,65.33 42.20,67.50 C44.48,69.67 47.83,71.95 49.70,73.70 C51.57,75.45 52.57,76.23 53.40,78.00 C54.23,79.77 53.87,82.08 54.70,84.30 C55.53,86.52 57.10,89.37 58.40,91.30 C59.70,93.23 60.37,93.88 62.50,95.90 C64.63,97.92 67.68,100.30 71.20,103.40 C74.72,106.50 78.63,110.27 83.60,114.50 C88.57,118.73 95.82,124.45 101.00,128.80 C106.18,133.15 110.10,136.57 114.70,140.60 C119.30,144.63 126.28,150.93 128.60,153.00 L0.00,152.50 L0.00,51.00 Z" fill="#2A788E"/>
<path d="M30.00,55.00 L36.00,62.50 L42.20,69.50 L49.00,76.00 L51.50,79.50 L52.50,86.00 L56.50,93.00 L62.60,99.30 L71.20,107.70 L83.60,119.50 L101.00,134.40 L120.00,153.00 L0.00,152.50 L0.00,55.00 Z" fill="#414487"/>
<path d="M31.00,56.00 L36.00,63.30 L42.20,70.30 L48.50,76.30 L50.50,80.00 L51.00,87.00 L55.00,94.50 L61.00,100.70 L71.20,111.30 L83.60,123.50 L101.00,139.00 L105.00,142.00 L114.00,153.00 L0.00,152.50 L0.00,56.00 Z" fill="#440154"/>
<path d="M35.40,0.00 L33.50,6.20 L31.00,13.70 L29.20,21.00 L27.60,28.60 L27.00,36.00 L27.60,42.20 L29.80,49.70 L32.00,55.00 L36.00,62.00 L42.20,69.40 L48.40,75.00 L49.00,78.00 L47.80,81.80 L48.40,89.30 L53.40,94.90 L58.80,100.90 L71.20,112.70 L83.60,124.50 L101.00,140.00 L111.80,153.00 L0.00,152.50 L0.00,0.00 Z" fill="#FFFFFF"/>
</g>
<path d="M33.00,0.00 C32.37,1.33 30.32,5.33 29.20,8.00 C28.08,10.67 27.07,13.20 26.30,16.00 C25.53,18.80 24.95,22.08 24.60,24.80 C24.25,27.52 24.17,29.60 24.20,32.30 C24.23,35.00 24.45,38.10 24.80,41.00 C25.15,43.90 25.67,46.80 26.30,49.70 C26.93,52.60 27.70,55.35 28.60,58.40 C29.50,61.45 30.57,65.47 31.70,68.00 C32.83,70.53 34.78,72.67 35.40,73.60 L0.00,91.50" stroke="#F0141E" stroke-width="1.35" fill="none" clip-path="url(#cp_f)"/>
<path d="M47.90,0.00 V90.00" stroke="#000" stroke-width="1.05" stroke-dasharray="3.7 2.5" fill="none"/>
<path d="M116.30,0.00 V70.00" stroke="#000" stroke-width="1.05" stroke-dasharray="3.7 2.5" fill="none"/>
<path d="M101.00,74.00 V152.50" stroke="#000" stroke-width="1.05" stroke-dasharray="3.7 2.5" fill="none"/>
<path d="M152.30,0.00 V152.50" stroke="#000" stroke-width="1.05" stroke-dasharray="3.7 2.5" fill="none"/>
<path d="M49.90,68.10 H114.30" stroke="#000" stroke-width="0.95" fill="none"/><path d="M47.90,68.10 l7.00,-2.80 l-1.6,2.80 l1.6,2.80 Z" fill="#000"/><path d="M116.30,68.10 l-7.00,-2.80 l1.6,2.80 l-1.6,2.80 Z" fill="#000"/>
<path d="M103.00,87.00 H150.30" stroke="#000" stroke-width="0.95" fill="none"/><path d="M101.00,87.00 l7.00,-2.80 l-1.6,2.80 l1.6,2.80 Z" fill="#000"/><path d="M152.30,87.00 l-7.00,-2.80 l1.6,2.80 l-1.6,2.80 Z" fill="#000"/>
<path d="M0.00,152.50 v-3 M0.00,0 v3 M68.60,152.50 v-3 M68.60,0 v3 M137.20,152.50 v-3 M137.20,0 v3 M20.65,152.50 v-1.6 M20.65,0 v1.6 M32.73,152.50 v-1.6 M32.73,0 v1.6 M41.30,152.50 v-1.6 M41.30,0 v1.6 M47.95,152.50 v-1.6 M47.95,0 v1.6 M53.38,152.50 v-1.6 M53.38,0 v1.6 M57.97,152.50 v-1.6 M57.97,0 v1.6 M61.95,152.50 v-1.6 M61.95,0 v1.6 M65.46,152.50 v-1.6 M65.46,0 v1.6 M89.25,152.50 v-1.6 M89.25,0 v1.6 M101.33,152.50 v-1.6 M101.33,0 v1.6 M109.90,152.50 v-1.6 M109.90,0 v1.6 M116.55,152.50 v-1.6 M116.55,0 v1.6 M121.98,152.50 v-1.6 M121.98,0 v1.6 M126.57,152.50 v-1.6 M126.57,0 v1.6 M130.55,152.50 v-1.6 M130.55,0 v1.6 M134.06,152.50 v-1.6 M134.06,0 v1.6 M157.85,152.50 v-1.6 M157.85,0 v1.6 M0,152.50 h3 M169.90,152.50 h-3 M0,84.35 h3 M169.90,84.35 h-3 M0,16.20 h3 M169.90,16.20 h-3 M0,131.98 h1.6 M169.90,131.98 h-1.6 M0,119.98 h1.6 M169.90,119.98 h-1.6 M0,111.47 h1.6 M169.90,111.47 h-1.6 M0,104.87 h1.6 M169.90,104.87 h-1.6 M0,99.47 h1.6 M169.90,99.47 h-1.6 M0,94.91 h1.6 M169.90,94.91 h-1.6 M0,90.95 h1.6 M169.90,90.95 h-1.6 M0,87.47 h1.6 M169.90,87.47 h-1.6 M0,63.83 h1.6 M169.90,63.83 h-1.6 M0,51.83 h1.6 M169.90,51.83 h-1.6 M0,43.32 h1.6 M169.90,43.32 h-1.6 M0,36.72 h1.6 M169.90,36.72 h-1.6 M0,31.32 h1.6 M169.90,31.32 h-1.6 M0,26.76 h1.6 M169.90,26.76 h-1.6 M0,22.80 h1.6 M169.90,22.80 h-1.6 M0,19.32 h1.6 M169.90,19.32 h-1.6" stroke="#000" stroke-width="0.6" fill="none"/>
<rect x="0.35" y="0.35" width="169.20" height="151.80" fill="none" stroke="#000" stroke-width="0.7"/>
<text x="5.00" y="12.80" class="pl">f</text>
<text x="80.50" y="62.00" class="lab">lab-scale</text>
<text x="125.00" y="81.50" class="lab">prototype</text>
<text transform="translate(13.70,38.00) rotate(-90)" class="grav">(gravity)</text>
<text x="15.00" y="122.70" class="gb">ghost bubbles</text>
<text x="15.00" y="131.30" class="gb">(capillarity)</text>
</g>
<g transform="translate(67.00,359.10)">
<clipPath id="cp_g"><rect x="0" y="0" width="169.90" height="152.50"/></clipPath>
<g clip-path="url(#cp_g)">
<rect x="0" y="0" width="169.90" height="152.50" fill="#FDE725"/>
<path d="M79.50,0.00 C80.42,1.03 82.02,3.20 85.00,6.20 C87.98,9.20 93.27,14.07 97.40,18.00 C101.53,21.93 105.65,25.87 109.80,29.80 C113.95,33.73 118.15,37.57 122.30,41.60 C126.45,45.63 130.58,49.97 134.70,54.00 C138.82,58.03 142.87,62.02 147.00,65.80 C151.13,69.58 155.68,73.42 159.50,76.70 C163.32,79.98 168.17,84.03 169.90,85.50 L169.90,152.50 L0.00,152.50 L0.00,0.00 Z" fill="#C5DF22"/>
<path d="M0.00,16.80 C2.07,16.28 8.27,14.73 12.40,13.70 C16.53,12.67 20.65,11.43 24.80,10.60 C28.95,9.77 33.15,9.13 37.30,8.70 C41.45,8.27 45.98,7.90 49.70,8.00 C53.42,8.10 56.72,8.57 59.60,9.30 C62.48,10.03 64.10,11.67 67.00,12.40 C69.90,13.13 74.00,12.52 77.00,13.70 C80.00,14.88 81.60,16.28 85.00,19.50 C88.40,22.72 93.27,28.58 97.40,33.00 C101.53,37.42 105.65,41.77 109.80,46.00 C113.95,50.23 118.57,54.73 122.30,58.40 C126.03,62.07 128.48,64.63 132.20,68.00 C135.92,71.37 140.47,75.28 144.60,78.60 C148.73,81.92 152.78,84.83 157.00,87.90 C161.22,90.97 167.75,95.48 169.90,97.00 L169.90,152.50 L0.00,152.50 Z" fill="#7AD151"/>
<path d="M0.00,37.30 C2.07,37.25 8.27,37.22 12.40,37.00 C16.53,36.78 20.65,36.37 24.80,36.00 C28.95,35.63 33.15,35.22 37.30,34.80 C41.45,34.38 45.57,33.80 49.70,33.50 C53.83,33.20 58.78,33.00 62.10,33.00 C65.42,33.00 67.12,33.00 69.60,33.50 C72.08,34.00 74.43,34.83 77.00,36.00 C79.57,37.17 82.00,38.00 85.00,40.50 C88.00,43.00 91.68,47.60 95.00,51.00 C98.32,54.40 101.73,58.07 104.90,60.90 C108.07,63.73 110.07,65.15 114.00,68.00 C117.93,70.85 124.00,74.68 128.50,78.00 C133.00,81.32 136.42,84.15 141.00,87.90 C145.58,91.65 153.50,98.40 156.00,100.50 L156.00,152.50 L0.00,152.50 Z" fill="#22A884"/>
<path d="M0.00,47.80 C2.07,48.00 8.27,48.68 12.40,49.00 C16.53,49.32 20.65,49.48 24.80,49.70 C28.95,49.92 33.15,50.00 37.30,50.30 C41.45,50.60 45.98,50.88 49.70,51.50 C53.42,52.12 56.28,52.95 59.60,54.00 C62.92,55.05 66.70,56.55 69.60,57.80 C72.50,59.05 74.02,59.80 77.00,61.50 C79.98,63.20 84.10,65.88 87.50,68.00 C90.90,70.12 93.68,71.82 97.40,74.20 C101.12,76.58 105.65,79.50 109.80,82.30 C113.95,85.10 118.10,87.97 122.30,91.00 C126.50,94.03 132.88,98.92 135.00,100.50 L135.00,152.50 L0.00,152.50 Z" fill="#2A788E"/>
<path d="M0.00,51.50 C1.67,51.49 6.90,51.25 10.00,51.47 C13.10,51.69 15.10,52.21 18.60,52.82 C22.10,53.44 27.27,54.13 31.00,55.14 C34.73,56.16 37.88,57.72 41.00,58.90 C44.12,60.07 46.87,61.16 49.70,62.22 C52.53,63.28 54.83,64.18 58.00,65.26 C61.17,66.34 65.53,67.48 68.70,68.67 C71.87,69.86 73.87,70.89 77.00,72.41 C80.13,73.94 83.67,75.94 87.50,77.83 C91.33,79.73 96.25,81.77 100.00,83.80 C103.75,85.83 106.25,87.24 110.00,90.02 C113.75,92.81 120.42,98.75 122.50,100.50 L122.50,152.50 L0.00,152.50 Z" fill="#414487"/>
<path d="M0.00,51.70 L10.00,52.30 L18.60,54.20 L31.00,57.30 L41.00,61.60 L49.70,65.40 L58.00,68.90 L68.70,72.70 L77.00,76.50 L87.50,81.96 L100.00,88.20 L110.00,93.20 L119.00,100.50 L119.00,152.50 L0.00,152.50 Z" fill="#440154"/>
<path d="M0.00,52.80 L10.00,53.40 L18.60,55.30 L31.00,58.40 L41.00,62.70 L49.70,66.50 L58.00,70.00 L68.70,74.00 L77.00,78.00 L87.50,83.70 L100.00,90.00 L110.00,95.00 L117.50,99.50 L117.50,152.50 L0.00,152.50 Z" fill="#FFFFFF"/>
<rect x="0" y="99.50" width="169.90" height="53.00" fill="#808080"/>
</g>
<path d="M109.80,0.00 V65.50" stroke="#000" stroke-width="1.05" stroke-dasharray="3.7 2.5" fill="none"/>
<path d="M68.70,74.00 V96.00" stroke="#000" stroke-width="1.05" stroke-dasharray="3.7 2.5" fill="none"/>
<path d="M137.00,0.00 V99.50" stroke="#000" stroke-width="1.05" stroke-dasharray="3.7 2.5" fill="none"/>
<path d="M2.30,41.20 H107.80" stroke="#000" stroke-width="0.95" fill="none"/><path d="M0.30,41.20 l7.00,-2.80 l-1.6,2.80 l1.6,2.80 Z" fill="#000"/><path d="M109.80,41.20 l-7.00,-2.80 l1.6,2.80 l-1.6,2.80 Z" fill="#000"/>
<path d="M70.70,87.00 H135.00" stroke="#000" stroke-width="0.95" fill="none"/><path d="M68.70,87.00 l7.00,-2.80 l-1.6,2.80 l1.6,2.80 Z" fill="#000"/><path d="M137.00,87.00 l-7.00,-2.80 l1.6,2.80 l-1.6,2.80 Z" fill="#000"/>
<path d="M0.00,152.50 v-3 M0.00,0 v3 M68.60,152.50 v-3 M68.60,0 v3 M137.20,152.50 v-3 M137.20,0 v3 M20.65,152.50 v-1.6 M20.65,0 v1.6 M32.73,152.50 v-1.6 M32.73,0 v1.6 M41.30,152.50 v-1.6 M41.30,0 v1.6 M47.95,152.50 v-1.6 M47.95,0 v1.6 M53.38,152.50 v-1.6 M53.38,0 v1.6 M57.97,152.50 v-1.6 M57.97,0 v1.6 M61.95,152.50 v-1.6 M61.95,0 v1.6 M65.46,152.50 v-1.6 M65.46,0 v1.6 M89.25,152.50 v-1.6 M89.25,0 v1.6 M101.33,152.50 v-1.6 M101.33,0 v1.6 M109.90,152.50 v-1.6 M109.90,0 v1.6 M116.55,152.50 v-1.6 M116.55,0 v1.6 M121.98,152.50 v-1.6 M121.98,0 v1.6 M126.57,152.50 v-1.6 M126.57,0 v1.6 M130.55,152.50 v-1.6 M130.55,0 v1.6 M134.06,152.50 v-1.6 M134.06,0 v1.6 M157.85,152.50 v-1.6 M157.85,0 v1.6 M0,152.50 h3 M169.90,152.50 h-3 M0,84.35 h3 M169.90,84.35 h-3 M0,16.20 h3 M169.90,16.20 h-3 M0,131.98 h1.6 M169.90,131.98 h-1.6 M0,119.98 h1.6 M169.90,119.98 h-1.6 M0,111.47 h1.6 M169.90,111.47 h-1.6 M0,104.87 h1.6 M169.90,104.87 h-1.6 M0,99.47 h1.6 M169.90,99.47 h-1.6 M0,94.91 h1.6 M169.90,94.91 h-1.6 M0,90.95 h1.6 M169.90,90.95 h-1.6 M0,87.47 h1.6 M169.90,87.47 h-1.6 M0,63.83 h1.6 M169.90,63.83 h-1.6 M0,51.83 h1.6 M169.90,51.83 h-1.6 M0,43.32 h1.6 M169.90,43.32 h-1.6 M0,36.72 h1.6 M169.90,36.72 h-1.6 M0,31.32 h1.6 M169.90,31.32 h-1.6 M0,26.76 h1.6 M169.90,26.76 h-1.6 M0,22.80 h1.6 M169.90,22.80 h-1.6 M0,19.32 h1.6 M169.90,19.32 h-1.6" stroke="#000" stroke-width="0.6" fill="none"/>
<rect x="0.35" y="0.35" width="169.20" height="151.80" fill="none" stroke="#000" stroke-width="0.7"/>
<text x="5.00" y="12.80" class="pl">g</text>
<text x="53.40" y="35.00" class="lab">lab-scale</text>
<text x="101.60" y="79.70" class="lab">prototype</text>
<text x="82.00" y="127.60" class="phi">Φ<tspan dy="3.6" font-size="6">o</tspan><tspan dy="-3.6" dx="1.2"> ≥ </tspan><tspan font-style="italic" dx="0.6">d</tspan></text>
<text x="9.00" y="81.00" class="gb">ghost bubbles</text>
<text x="9.00" y="90.00" class="gb">(capillarity)</text>
</g>
<g transform="translate(249.10,359.10)">
<clipPath id="cp_h"><rect x="0" y="0" width="169.90" height="152.50"/></clipPath>
<g clip-path="url(#cp_h)">
<rect x="0" y="0" width="169.90" height="152.50" fill="#FDE725"/>
<path d="M80.00,0.00 C80.92,1.25 82.50,4.28 85.50,7.50 C88.50,10.72 93.87,15.38 98.00,19.30 C102.13,23.22 106.17,27.18 110.30,31.00 C114.43,34.82 118.65,38.37 122.80,42.20 C126.95,46.03 131.07,50.07 135.20,54.00 C139.33,57.93 143.47,62.02 147.60,65.80 C151.73,69.58 156.28,73.42 160.00,76.70 C163.72,79.98 168.25,84.03 169.90,85.50 L169.90,152.50 L0.00,152.50 L0.00,0.00 Z" fill="#C5DF22"/>
<path d="M0.00,21.00 C2.17,20.40 8.78,18.83 13.00,17.40 C17.22,15.97 21.17,13.85 25.30,12.40 C29.43,10.95 33.65,9.57 37.80,8.70 C41.95,7.83 46.07,7.20 50.20,7.20 C54.33,7.20 59.30,7.93 62.60,8.70 C65.90,9.47 67.52,10.87 70.00,11.80 C72.48,12.73 74.92,13.17 77.50,14.30 C80.08,15.43 82.08,15.92 85.50,18.60 C88.92,21.28 93.87,26.57 98.00,30.40 C102.13,34.23 106.17,37.77 110.30,41.60 C114.43,45.43 118.65,49.57 122.80,53.40 C126.95,57.23 132.50,62.17 135.20,64.60 C137.90,67.03 136.53,65.77 139.00,68.00 C141.47,70.23 146.50,74.90 150.00,78.00 C153.50,81.10 156.68,83.77 160.00,86.60 C163.32,89.43 168.25,93.60 169.90,95.00 L169.90,152.50 L0.00,152.50 Z" fill="#7AD151"/>
<path d="M0.00,46.00 C2.17,45.67 8.78,44.73 13.00,44.00 C17.22,43.27 21.17,42.72 25.30,41.60 C29.43,40.48 33.65,38.95 37.80,37.30 C41.95,35.65 46.50,33.20 50.20,31.70 C53.90,30.20 56.90,29.03 60.00,28.30 C63.10,27.57 65.88,27.15 68.80,27.30 C71.72,27.45 74.72,28.28 77.50,29.20 C80.28,30.12 82.92,31.25 85.50,32.80 C88.08,34.35 90.32,36.30 93.00,38.50 C95.68,40.70 98.72,43.52 101.60,46.00 C104.48,48.48 107.40,50.82 110.30,53.40 C113.20,55.98 116.30,59.07 119.00,61.50 C121.70,63.93 123.38,65.47 126.50,68.00 C129.62,70.53 134.18,73.80 137.70,76.70 C141.22,79.60 144.30,82.52 147.60,85.40 C150.90,88.28 153.78,90.98 157.50,94.00 C161.22,97.02 167.83,101.92 169.90,103.50 L169.90,152.50 L0.00,152.50 Z" fill="#22A884"/>
<path d="M0.00,58.00 C3.17,57.93 13.75,57.88 19.00,57.60 C24.25,57.32 27.75,56.82 31.50,56.30 C35.25,55.78 38.38,54.97 41.50,54.50 C44.62,54.03 47.12,53.70 50.20,53.50 C53.28,53.30 56.90,53.10 60.00,53.30 C63.10,53.50 65.88,53.92 68.80,54.70 C71.72,55.48 74.72,56.67 77.50,58.00 C80.28,59.33 82.92,61.03 85.50,62.70 C88.08,64.37 89.92,65.87 93.00,68.00 C96.08,70.13 100.28,72.92 104.00,75.50 C107.72,78.08 111.55,80.72 115.30,83.50 C119.05,86.28 122.77,89.28 126.50,92.20 C130.23,95.12 133.97,98.10 137.70,101.00 C141.43,103.90 145.18,106.93 148.90,109.60 C152.62,112.27 156.50,115.10 160.00,117.00 C163.50,118.90 168.25,120.33 169.90,121.00 L169.90,152.50 L0.00,152.50 Z" fill="#2A788E"/>
<path d="M0.00,62.30 C3.17,62.42 13.75,62.85 19.00,63.00 C24.25,63.15 27.33,62.97 31.50,63.20 C35.67,63.43 39.85,63.60 44.00,64.40 C48.15,65.20 52.27,66.33 56.40,68.00 C60.53,69.67 65.28,72.62 68.80,74.40 C72.32,76.18 74.72,77.22 77.50,78.70 C80.28,80.18 82.52,81.67 85.50,83.30 C88.48,84.93 92.08,86.60 95.40,88.50 C98.72,90.40 102.08,92.45 105.40,94.70 C108.72,96.95 111.98,99.30 115.30,102.00 C118.62,104.70 121.98,107.87 125.30,110.90 C128.62,113.93 132.32,117.52 135.20,120.20 C138.08,122.88 140.30,124.87 142.60,127.00 C144.90,129.13 147.93,132.00 149.00,133.00 L149.00,152.50 L0.00,152.50 Z" fill="#414487"/>
<path d="M0.00,63.10 C2.17,63.17 8.78,63.07 13.00,63.50 C17.22,63.93 21.17,64.80 25.30,65.70 C29.43,66.60 33.65,67.58 37.80,68.90 C41.95,70.22 46.07,71.92 50.20,73.60 C54.33,75.28 58.47,77.27 62.60,79.00 C66.73,80.73 71.18,82.45 75.00,84.00 C78.82,85.55 82.50,86.90 85.50,88.30 C88.50,89.70 90.52,90.75 93.00,92.40 C95.48,94.05 97.92,96.27 100.40,98.20 C102.88,100.13 105.42,102.00 107.90,104.00 C110.38,106.00 112.82,108.03 115.30,110.20 C117.78,112.37 120.52,114.72 122.80,117.00 C125.08,119.28 126.93,121.73 129.00,123.90 C131.07,126.07 133.70,128.48 135.20,130.00 C136.70,131.52 137.53,132.50 138.00,133.00 L138.00,152.50 L0.00,152.50 Z" fill="#440154"/>
<path d="M0.00,64.00 L13.00,64.40 L25.30,66.70 L37.80,70.00 L50.20,74.80 L62.60,80.30 L75.00,85.80 L85.50,91.30 L93.00,96.80 L100.40,103.70 L106.60,110.00 L112.80,115.80 L119.00,121.40 L124.00,127.60 L128.40,132.20 L128.40,152.50 L0.00,152.50 Z" fill="#FFFFFF"/>
<rect x="0" y="132.20" width="169.90" height="20.30" fill="#808080"/>
</g>
<path d="M109.70,0.00 V65.50" stroke="#000" stroke-width="1.05" stroke-dasharray="3.7 2.5" fill="none"/>
<path d="M68.00,75.00 V131.00" stroke="#000" stroke-width="1.05" stroke-dasharray="3.7 2.5" fill="none"/>
<path d="M137.00,0.00 V132.20" stroke="#000" stroke-width="1.05" stroke-dasharray="3.7 2.5" fill="none"/>
<path d="M2.30,52.80 H107.70" stroke="#000" stroke-width="0.95" fill="none"/><path d="M0.30,52.80 l7.00,-2.80 l-1.6,2.80 l1.6,2.80 Z" fill="#000"/><path d="M109.70,52.80 l-7.00,-2.80 l1.6,2.80 l-1.6,2.80 Z" fill="#000"/>
<path d="M70.00,90.40 H135.00" stroke="#000" stroke-width="0.95" fill="none"/><path d="M68.00,90.40 l7.00,-2.80 l-1.6,2.80 l1.6,2.80 Z" fill="#000"/><path d="M137.00,90.40 l-7.00,-2.80 l1.6,2.80 l-1.6,2.80 Z" fill="#000"/>
<path d="M0.00,152.50 v-3 M0.00,0 v3 M68.60,152.50 v-3 M68.60,0 v3 M137.20,152.50 v-3 M137.20,0 v3 M20.65,152.50 v-1.6 M20.65,0 v1.6 M32.73,152.50 v-1.6 M32.73,0 v1.6 M41.30,152.50 v-1.6 M41.30,0 v1.6 M47.95,152.50 v-1.6 M47.95,0 v1.6 M53.38,152.50 v-1.6 M53.38,0 v1.6 M57.97,152.50 v-1.6 M57.97,0 v1.6 M61.95,152.50 v-1.6 M61.95,0 v1.6 M65.46,152.50 v-1.6 M65.46,0 v1.6 M89.25,152.50 v-1.6 M89.25,0 v1.6 M101.33,152.50 v-1.6 M101.33,0 v1.6 M109.90,152.50 v-1.6 M109.90,0 v1.6 M116.55,152.50 v-1.6 M116.55,0 v1.6 M121.98,152.50 v-1.6 M121.98,0 v1.6 M126.57,152.50 v-1.6 M126.57,0 v1.6 M130.55,152.50 v-1.6 M130.55,0 v1.6 M134.06,152.50 v-1.6 M134.06,0 v1.6 M157.85,152.50 v-1.6 M157.85,0 v1.6 M0,152.50 h3 M169.90,152.50 h-3 M0,84.35 h3 M169.90,84.35 h-3 M0,16.20 h3 M169.90,16.20 h-3 M0,131.98 h1.6 M169.90,131.98 h-1.6 M0,119.98 h1.6 M169.90,119.98 h-1.6 M0,111.47 h1.6 M169.90,111.47 h-1.6 M0,104.87 h1.6 M169.90,104.87 h-1.6 M0,99.47 h1.6 M169.90,99.47 h-1.6 M0,94.91 h1.6 M169.90,94.91 h-1.6 M0,90.95 h1.6 M169.90,90.95 h-1.6 M0,87.47 h1.6 M169.90,87.47 h-1.6 M0,63.83 h1.6 M169.90,63.83 h-1.6 M0,51.83 h1.6 M169.90,51.83 h-1.6 M0,43.32 h1.6 M169.90,43.32 h-1.6 M0,36.72 h1.6 M169.90,36.72 h-1.6 M0,31.32 h1.6 M169.90,31.32 h-1.6 M0,26.76 h1.6 M169.90,26.76 h-1.6 M0,22.80 h1.6 M169.90,22.80 h-1.6 M0,19.32 h1.6 M169.90,19.32 h-1.6" stroke="#000" stroke-width="0.6" fill="none"/>
<rect x="0.35" y="0.35" width="169.20" height="151.80" fill="none" stroke="#000" stroke-width="0.7"/>
<text x="5.00" y="12.80" class="pl">h</text>
<text x="54.00" y="46.70" class="lab">lab-scale</text>
<text x="101.50" y="83.00" class="lab">prototype</text>
<text x="82.10" y="145.10" class="phi">Φ<tspan dy="3.6" font-size="6">o</tspan><tspan dy="-3.6" dx="1.2"> ≥ </tspan><tspan font-style="italic" dx="0.6">d</tspan></text>
<text x="10.40" y="105.70" class="gb">ghost bubbles</text>
<text x="10.40" y="114.70" class="gb">(capillarity)</text>
</g>
<g transform="translate(431.20,359.10)">
<clipPath id="cp_i"><rect x="0" y="0" width="169.90" height="152.50"/></clipPath>
<g clip-path="url(#cp_i)">
<rect x="0" y="0" width="169.90" height="152.50" fill="#FDE725"/>
<path d="M76.00,0.00 C77.92,1.67 83.50,6.05 87.50,10.00 C91.50,13.95 95.83,19.37 100.00,23.70 C104.17,28.03 108.33,31.62 112.50,36.00 C116.67,40.38 120.83,45.38 125.00,50.00 C129.17,54.62 133.33,59.12 137.50,63.70 C141.67,68.28 146.25,73.33 150.00,77.50 C153.75,81.67 156.68,85.28 160.00,88.70 C163.32,92.12 168.25,96.45 169.90,98.00 L169.90,152.50 L0.00,152.50 L0.00,0.00 Z" fill="#C5DF22"/>
<path d="M0.00,23.70 C2.08,22.87 8.33,20.15 12.50,18.70 C16.67,17.25 20.83,16.03 25.00,15.00 C29.17,13.97 33.33,13.00 37.50,12.50 C41.67,12.00 46.25,11.58 50.00,12.00 C53.75,12.42 56.67,13.88 60.00,15.00 C63.33,16.12 66.67,17.03 70.00,18.70 C73.33,20.37 77.08,22.50 80.00,25.00 C82.92,27.50 85.22,30.58 87.50,33.70 C89.78,36.82 91.83,40.15 93.70,43.70 C95.57,47.25 97.23,51.28 98.70,55.00 C100.17,58.72 101.28,62.25 102.50,66.00 C103.72,69.75 104.58,73.72 106.00,77.50 C107.42,81.28 108.83,84.62 111.00,88.70 C113.17,92.78 116.67,98.45 119.00,102.00 C121.33,105.55 122.72,107.50 125.00,110.00 C127.28,112.50 129.92,114.00 132.70,117.00 C135.48,120.00 138.45,124.42 141.70,128.00 C144.95,131.58 148.95,135.67 152.20,138.50 C155.45,141.33 158.25,143.17 161.20,145.00 C164.15,146.83 168.45,148.75 169.90,149.50 L169.90,152.50 L0.00,152.50 Z" fill="#7AD151"/>
<path d="M0.00,64.00 C3.10,64.00 13.43,63.70 18.60,64.00 C23.77,64.30 26.85,64.77 31.00,65.80 C35.15,66.83 39.77,68.75 43.50,70.20 C47.23,71.65 50.30,72.65 53.40,74.50 C56.50,76.35 59.40,79.02 62.10,81.30 C64.80,83.58 67.12,85.95 69.60,88.20 C72.08,90.45 74.43,92.67 77.00,94.80 C79.57,96.93 82.75,99.13 85.00,101.00 C87.25,102.87 88.33,104.08 90.50,106.00 C92.67,107.92 94.98,109.75 98.00,112.50 C101.02,115.25 105.10,119.33 108.60,122.50 C112.10,125.67 115.27,128.42 119.00,131.50 C122.73,134.58 127.50,138.33 131.00,141.00 C134.50,143.67 137.17,145.50 140.00,147.50 C142.83,149.50 146.67,152.08 148.00,153.00 L0.00,152.50 Z" fill="#22A884"/>
<path d="M0.00,78.60 C2.07,78.80 8.27,79.07 12.40,79.80 C16.53,80.53 20.40,81.67 24.80,83.00 C29.20,84.33 34.77,86.22 38.80,87.80 C42.83,89.38 45.58,90.72 49.00,92.50 C52.42,94.28 56.05,96.42 59.30,98.50 C62.55,100.58 65.10,102.50 68.50,105.00 C71.90,107.50 76.12,110.67 79.70,113.50 C83.28,116.33 87.27,119.67 90.00,122.00 C92.73,124.33 93.00,124.75 96.10,127.50 C99.20,130.25 104.78,135.33 108.60,138.50 C112.42,141.67 115.60,144.08 119.00,146.50 C122.40,148.92 127.33,151.92 129.00,153.00 L0.00,152.50 Z" fill="#2A788E"/>
<path d="M0.00,78.30 L12.40,79.60 L24.80,83.10 L38.80,89.20 L49.00,94.80 L59.30,101.78 L68.50,108.87 L79.70,118.45 L90.00,128.03 L96.10,133.86 L104.00,141.47 L111.60,149.80 L0.00,152.50 Z" fill="#414487"/>
<path d="M0.00,78.50 L12.40,79.80 L24.80,83.30 L38.80,89.40 L49.00,95.10 L59.30,102.32 L68.50,109.79 L79.70,119.81 L90.00,129.81 L96.10,135.89 L104.00,143.70 L111.60,152.10 L0.00,152.50 Z" fill="#440154"/>
<path d="M0.00,80.70 L12.40,82.00 L24.80,85.50 L38.80,91.60 L49.00,97.30 L59.30,104.40 L68.50,111.60 L79.70,121.30 L90.00,131.00 L96.10,136.90 L104.00,144.60 L111.60,153.00 L0.00,152.50 Z" fill="#FFFFFF"/>
</g>
<path d="M109.30,0.00 V70.00" stroke="#000" stroke-width="1.05" stroke-dasharray="3.7 2.5" fill="none"/>
<path d="M68.50,83.50 V152.50" stroke="#000" stroke-width="1.05" stroke-dasharray="3.7 2.5" fill="none"/>
<path d="M137.00,0.00 V152.50" stroke="#000" stroke-width="1.05" stroke-dasharray="3.7 2.5" fill="none"/>
<path d="M2.30,64.20 H107.30" stroke="#000" stroke-width="0.95" fill="none"/><path d="M0.30,64.20 l7.00,-2.80 l-1.6,2.80 l1.6,2.80 Z" fill="#000"/><path d="M109.30,64.20 l-7.00,-2.80 l1.6,2.80 l-1.6,2.80 Z" fill="#000"/>
<path d="M70.50,104.40 H135.00" stroke="#000" stroke-width="0.95" fill="none"/><path d="M68.50,104.40 l7.00,-2.80 l-1.6,2.80 l1.6,2.80 Z" fill="#000"/><path d="M137.00,104.40 l-7.00,-2.80 l1.6,2.80 l-1.6,2.80 Z" fill="#000"/>
<path d="M0.00,152.50 v-3 M0.00,0 v3 M68.60,152.50 v-3 M68.60,0 v3 M137.20,152.50 v-3 M137.20,0 v3 M20.65,152.50 v-1.6 M20.65,0 v1.6 M32.73,152.50 v-1.6 M32.73,0 v1.6 M41.30,152.50 v-1.6 M41.30,0 v1.6 M47.95,152.50 v-1.6 M47.95,0 v1.6 M53.38,152.50 v-1.6 M53.38,0 v1.6 M57.97,152.50 v-1.6 M57.97,0 v1.6 M61.95,152.50 v-1.6 M61.95,0 v1.6 M65.46,152.50 v-1.6 M65.46,0 v1.6 M89.25,152.50 v-1.6 M89.25,0 v1.6 M101.33,152.50 v-1.6 M101.33,0 v1.6 M109.90,152.50 v-1.6 M109.90,0 v1.6 M116.55,152.50 v-1.6 M116.55,0 v1.6 M121.98,152.50 v-1.6 M121.98,0 v1.6 M126.57,152.50 v-1.6 M126.57,0 v1.6 M130.55,152.50 v-1.6 M130.55,0 v1.6 M134.06,152.50 v-1.6 M134.06,0 v1.6 M157.85,152.50 v-1.6 M157.85,0 v1.6 M0,152.50 h3 M169.90,152.50 h-3 M0,84.35 h3 M169.90,84.35 h-3 M0,16.20 h3 M169.90,16.20 h-3 M0,131.98 h1.6 M169.90,131.98 h-1.6 M0,119.98 h1.6 M169.90,119.98 h-1.6 M0,111.47 h1.6 M169.90,111.47 h-1.6 M0,104.87 h1.6 M169.90,104.87 h-1.6 M0,99.47 h1.6 M169.90,99.47 h-1.6 M0,94.91 h1.6 M169.90,94.91 h-1.6 M0,90.95 h1.6 M169.90,90.95 h-1.6 M0,87.47 h1.6 M169.90,87.47 h-1.6 M0,63.83 h1.6 M169.90,63.83 h-1.6 M0,51.83 h1.6 M169.90,51.83 h-1.6 M0,43.32 h1.6 M169.90,43.32 h-1.6 M0,36.72 h1.6 M169.90,36.72 h-1.6 M0,31.32 h1.6 M169.90,31.32 h-1.6 M0,26.76 h1.6 M169.90,26.76 h-1.6 M0,22.80 h1.6 M169.90,22.80 h-1.6 M0,19.32 h1.6 M169.90,19.32 h-1.6" stroke="#000" stroke-width="0.6" fill="none"/>
<rect x="0.35" y="0.35" width="169.20" height="151.80" fill="none" stroke="#000" stroke-width="0.7"/>
<text x="5.00" y="12.80" class="pl">i</text>
<text x="55.00" y="58.00" class="lab">lab-scale</text>
<text x="102.00" y="97.50" class="lab">prototype</text>
<text x="10.50" y="127.50" class="gb">ghost bubbles</text>
<text x="10.50" y="136.50" class="gb">(capillarity)</text>
</g>
<text x="153.25" y="8.5" class="ttl">Φ<tspan dy="3.4" dx="0.3" font-size="6.3">o</tspan><tspan dy="-3.4" font-size="1">&#8203;</tspan> = 6·10<tspan dy="-3.9" font-size="6.3">−4</tspan><tspan dy="3.9" font-size="1">&#8203;</tspan> m</text>
<text x="153.25" y="22.1" class="ttl">Δ<tspan font-style="italic">x</tspan> = 4·10<tspan dy="-3.9" font-size="6.3">−3</tspan><tspan dy="3.9" font-size="1">&#8203;</tspan> m</text>
<text x="335.35" y="8.5" class="ttl">Φ<tspan dy="3.4" dx="0.3" font-size="6.3">o</tspan><tspan dy="-3.4" font-size="1">&#8203;</tspan> = 2·10<tspan dy="-3.9" font-size="6.3">−4</tspan><tspan dy="3.9" font-size="1">&#8203;</tspan> m</text>
<text x="335.35" y="22.1" class="ttl">Δ<tspan font-style="italic">x</tspan> = 8·10<tspan dy="-3.9" font-size="6.3">−3</tspan><tspan dy="3.9" font-size="1">&#8203;</tspan> m</text>
<text x="517.45" y="8.5" class="ttl">Φ<tspan dy="3.4" dx="0.3" font-size="6.3">o</tspan><tspan dy="-3.4" font-size="1">&#8203;</tspan> = 6·10<tspan dy="-3.9" font-size="6.3">−5</tspan><tspan dy="3.9" font-size="1">&#8203;</tspan> m</text>
<text x="517.45" y="22.1" class="ttl">Δ<tspan font-style="italic">x</tspan> = 5·10<tspan dy="-3.9" font-size="6.3">−4</tspan><tspan dy="3.9" font-size="1">&#8203;</tspan> m</text>
<text x="63.9" y="185.00" class="tick" text-anchor="end">10<tspan dy="-3.5" font-size="6.5">−4</tspan><tspan dy="3.5" font-size="1">&#8203;</tspan></text>
<text x="63.9" y="116.85" class="tick" text-anchor="end">10<tspan dy="-3.5" font-size="6.5">−3</tspan><tspan dy="3.5" font-size="1">&#8203;</tspan></text>
<text x="63.9" y="48.70" class="tick" text-anchor="end">10<tspan dy="-3.5" font-size="6.5">−2</tspan><tspan dy="3.5" font-size="1">&#8203;</tspan></text>
<text transform="translate(34.6,102.85) rotate(-90)" class="ax"><tspan font-style="italic">d</tspan> (m)</text>
<text transform="translate(8.9,102.85) rotate(-90)" class="ax" style="font-size:11px"><tspan font-style="italic">γ</tspan> = 90°</text>
<text x="63.9" y="349.00" class="tick" text-anchor="end">10<tspan dy="-3.5" font-size="6.5">−4</tspan><tspan dy="3.5" font-size="1">&#8203;</tspan></text>
<text x="63.9" y="280.85" class="tick" text-anchor="end">10<tspan dy="-3.5" font-size="6.5">−3</tspan><tspan dy="3.5" font-size="1">&#8203;</tspan></text>
<text x="63.9" y="212.70" class="tick" text-anchor="end">10<tspan dy="-3.5" font-size="6.5">−2</tspan><tspan dy="3.5" font-size="1">&#8203;</tspan></text>
<text transform="translate(34.6,266.85) rotate(-90)" class="ax"><tspan font-style="italic">d</tspan> (m)</text>
<text transform="translate(8.9,266.85) rotate(-90)" class="ax" style="font-size:11px"><tspan font-style="italic">γ</tspan> = 0°</text>
<text x="63.9" y="514.00" class="tick" text-anchor="end">10<tspan dy="-3.5" font-size="6.5">−4</tspan><tspan dy="3.5" font-size="1">&#8203;</tspan></text>
<text x="63.9" y="445.85" class="tick" text-anchor="end">10<tspan dy="-3.5" font-size="6.5">−3</tspan><tspan dy="3.5" font-size="1">&#8203;</tspan></text>
<text x="63.9" y="377.70" class="tick" text-anchor="end">10<tspan dy="-3.5" font-size="6.5">−2</tspan><tspan dy="3.5" font-size="1">&#8203;</tspan></text>
<text transform="translate(34.6,431.85) rotate(-90)" class="ax"><tspan font-style="italic">d</tspan> (m)</text>
<text transform="translate(8.9,431.85) rotate(-90)" class="ax" style="font-size:11px"><tspan font-style="italic">γ</tspan> = 180°</text>
<text x="68.60" y="528.3" class="tick" text-anchor="middle">10<tspan dy="-3.5" font-size="6.5">−1</tspan><tspan dy="3.5" font-size="1">&#8203;</tspan></text>
<text x="135.90" y="528.3" class="tick" text-anchor="middle">10<tspan dy="-3.5" font-size="6.5">0</tspan><tspan dy="3.5" font-size="1">&#8203;</tspan></text>
<text x="204.50" y="528.3" class="tick" text-anchor="middle">10<tspan dy="-3.5" font-size="6.5">1</tspan><tspan dy="3.5" font-size="1">&#8203;</tspan></text>
<text x="153.95" y="542.8" class="ax"><tspan font-style="italic">u</tspan><tspan dy="3.4" dx="0.3" font-size="6.3">c</tspan><tspan dy="-3.4" font-size="1">&#8203;</tspan> (m s<tspan dy="-3.9" font-size="6.3">−1</tspan><tspan dy="3.9" font-size="1">&#8203;</tspan>)</text>
<text x="250.70" y="528.3" class="tick" text-anchor="middle">10<tspan dy="-3.5" font-size="6.5">−1</tspan><tspan dy="3.5" font-size="1">&#8203;</tspan></text>
<text x="318.00" y="528.3" class="tick" text-anchor="middle">10<tspan dy="-3.5" font-size="6.5">0</tspan><tspan dy="3.5" font-size="1">&#8203;</tspan></text>
<text x="386.60" y="528.3" class="tick" text-anchor="middle">10<tspan dy="-3.5" font-size="6.5">1</tspan><tspan dy="3.5" font-size="1">&#8203;</tspan></text>
<text x="336.05" y="542.8" class="ax"><tspan font-style="italic">u</tspan><tspan dy="3.4" dx="0.3" font-size="6.3">c</tspan><tspan dy="-3.4" font-size="1">&#8203;</tspan> (m s<tspan dy="-3.9" font-size="6.3">−1</tspan><tspan dy="3.9" font-size="1">&#8203;</tspan>)</text>
<text x="432.80" y="528.3" class="tick" text-anchor="middle">10<tspan dy="-3.5" font-size="6.5">−1</tspan><tspan dy="3.5" font-size="1">&#8203;</tspan></text>
<text x="500.10" y="528.3" class="tick" text-anchor="middle">10<tspan dy="-3.5" font-size="6.5">0</tspan><tspan dy="3.5" font-size="1">&#8203;</tspan></text>
<text x="568.70" y="528.3" class="tick" text-anchor="middle">10<tspan dy="-3.5" font-size="6.5">1</tspan><tspan dy="3.5" font-size="1">&#8203;</tspan></text>
<text x="518.15" y="542.8" class="ax"><tspan font-style="italic">u</tspan><tspan dy="3.4" dx="0.3" font-size="6.3">c</tspan><tspan dy="-3.4" font-size="1">&#8203;</tspan> (m s<tspan dy="-3.9" font-size="6.3">−1</tspan><tspan dy="3.9" font-size="1">&#8203;</tspan>)</text>
<rect x="614.30" y="210.20" width="24.50" height="17.20" fill="#FDE725"/>
<rect x="614.30" y="227.10" width="24.50" height="17.20" fill="#C5DF22"/>
<rect x="614.30" y="244.00" width="24.50" height="17.20" fill="#7AD151"/>
<rect x="614.30" y="260.90" width="24.50" height="17.20" fill="#22A884"/>
<rect x="614.30" y="277.80" width="24.50" height="17.20" fill="#2A788E"/>
<rect x="614.30" y="294.70" width="24.50" height="17.20" fill="#414487"/>
<rect x="614.30" y="311.60" width="24.50" height="17.20" fill="#440154"/>
<rect x="614.65" y="210.55" width="23.80" height="117.60" fill="none" stroke="#000" stroke-width="0.7"/>
<text x="643.4" y="213.90" class="cb">1.0</text>
<text x="643.4" y="230.80" class="cb">0.99</text>
<text x="643.4" y="247.70" class="cb">0.95</text>
<text x="643.4" y="264.60" class="cb">0.9</text>
<text x="643.4" y="281.50" class="cb">0.8</text>
<text x="643.4" y="298.40" class="cb">0.7</text>
<text x="643.4" y="315.30" class="cb">0.6</text>
<text x="643.4" y="332.20" class="cb">0.5</text>
<text transform="translate(680.3,272.6) rotate(-90)" class="ax" style="font-size:11px"><tspan font-style="italic">u</tspan><tspan dy="3.3" dx="0.2" font-size="7">d,meas</tspan><tspan dy="-3.3" font-size="1">&#8203;</tspan> / <tspan font-style="italic">u</tspan><tspan dy="3.3" dx="0.2" font-size="7">d,corr</tspan><tspan dy="-3.3" font-size="1">&#8203;</tspan> (-)</text>
</svg></body></html>
